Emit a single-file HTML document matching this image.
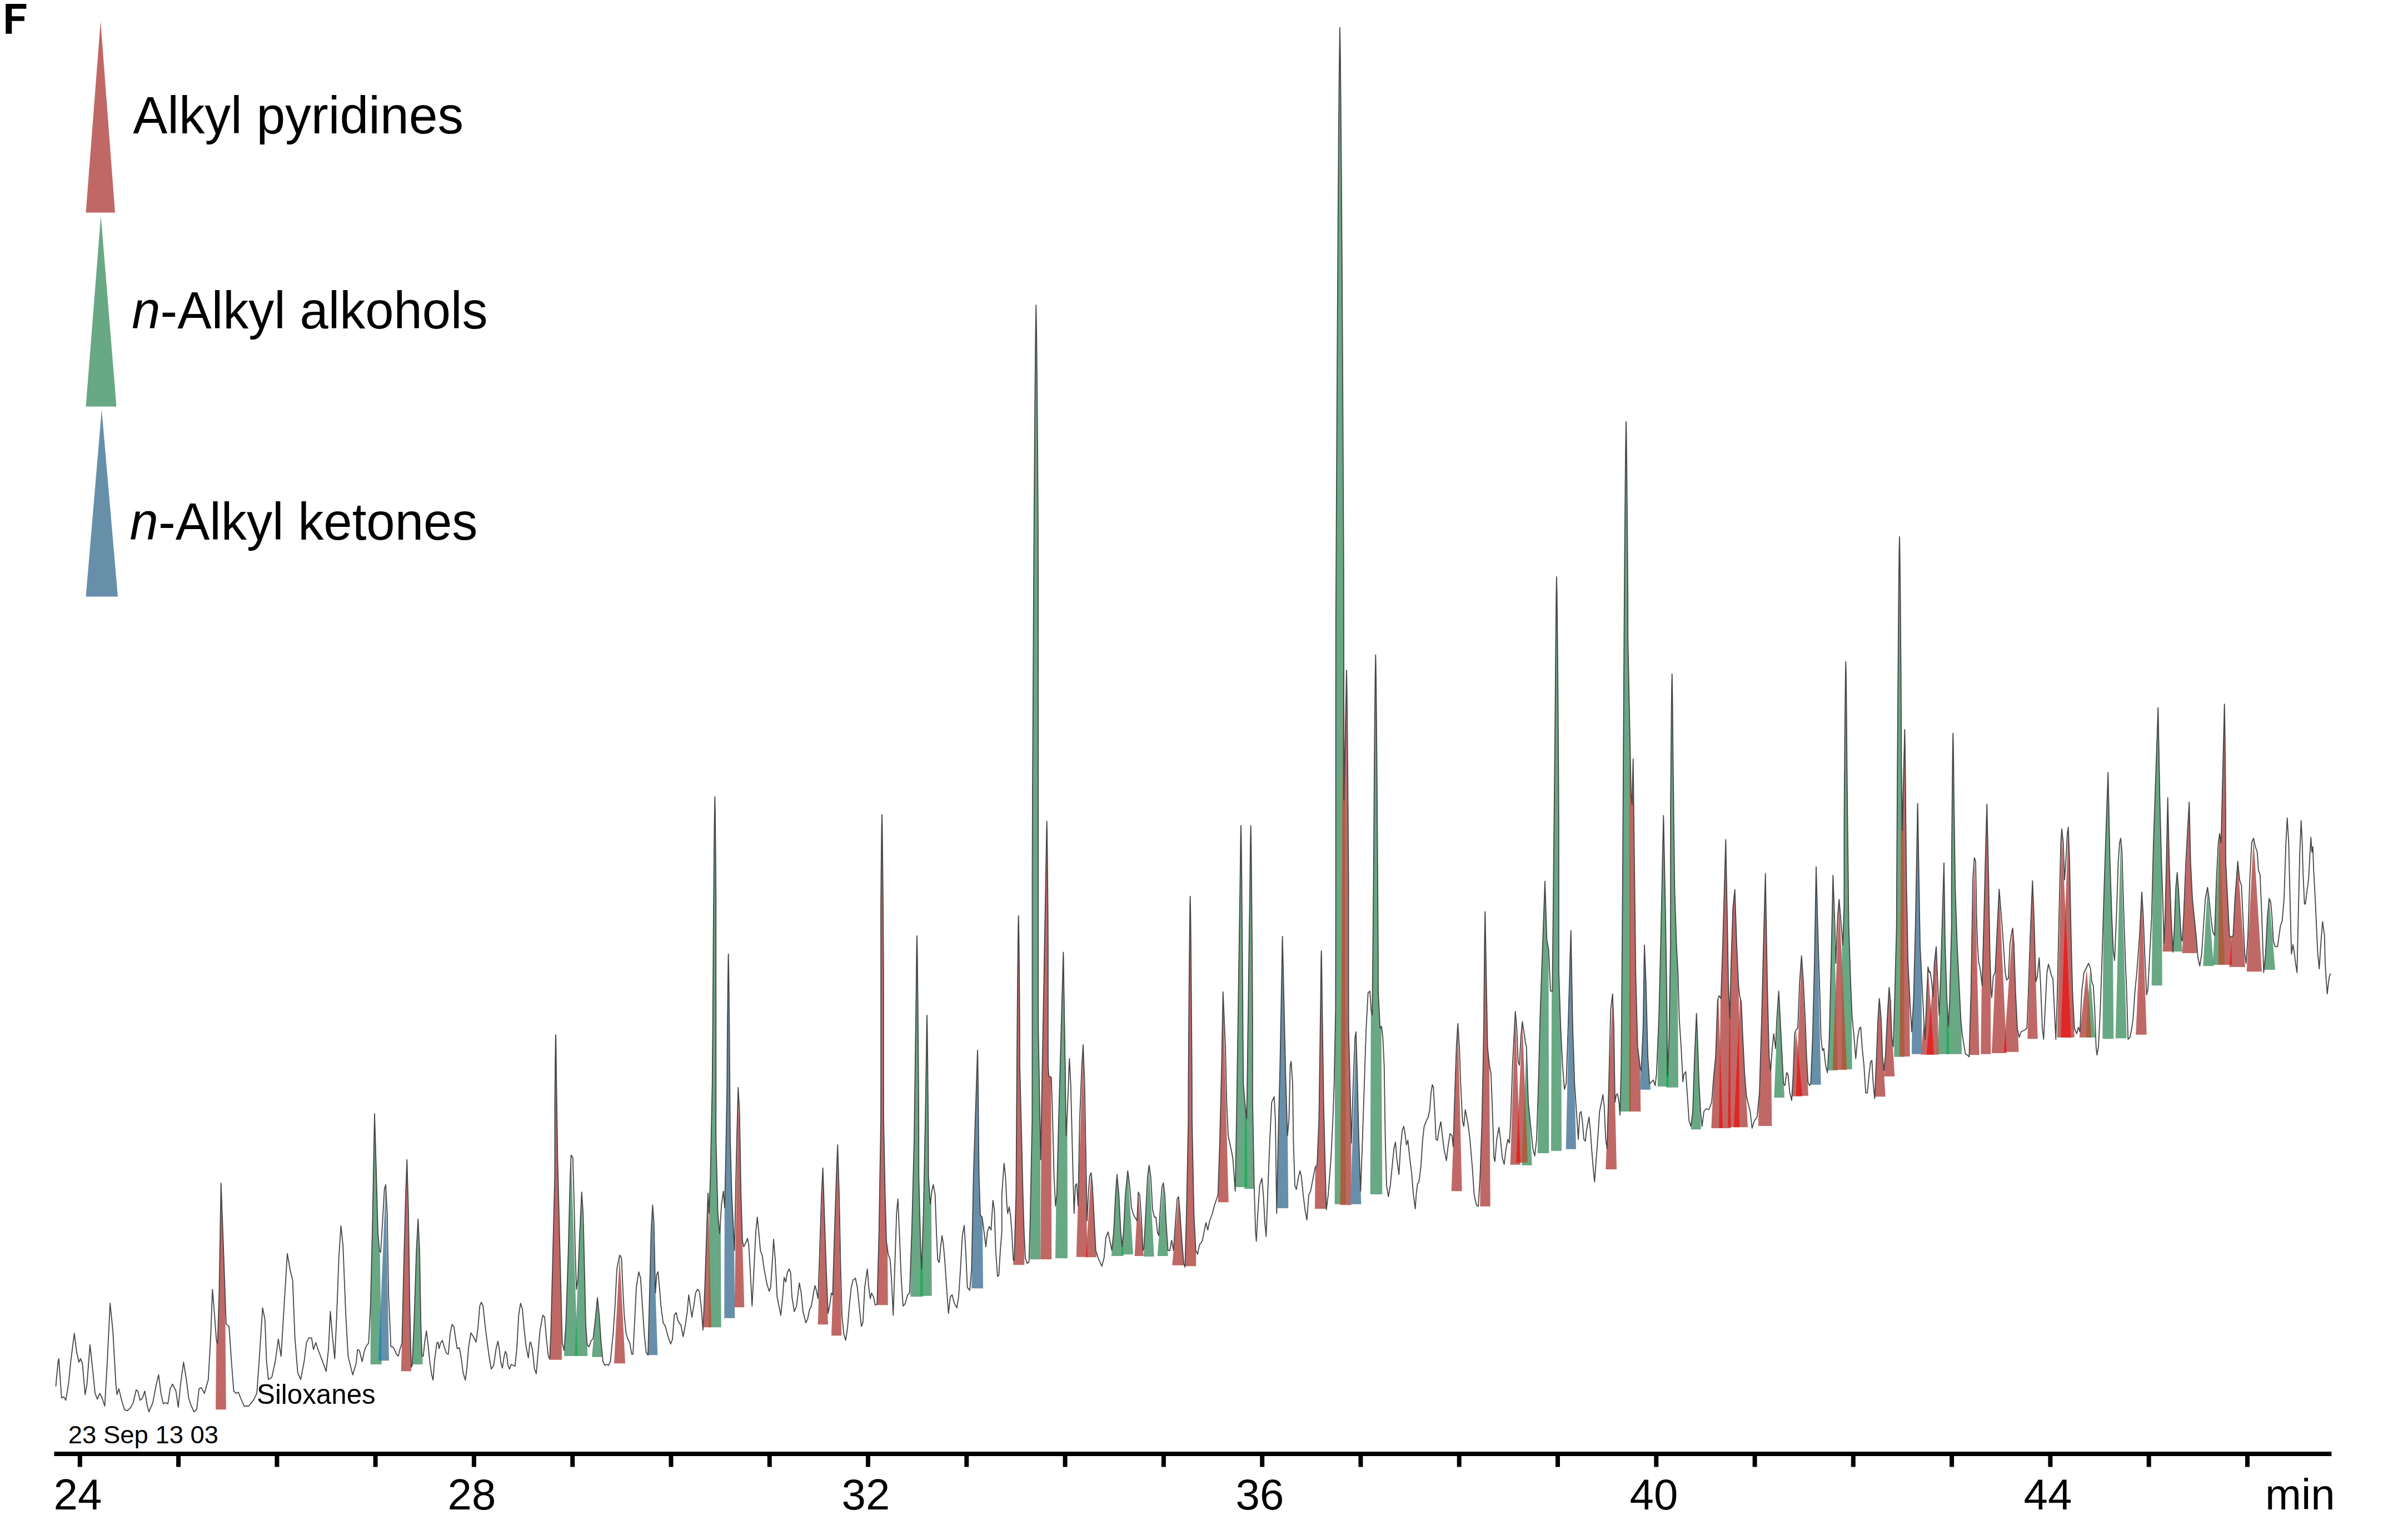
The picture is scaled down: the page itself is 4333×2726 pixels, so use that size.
<!DOCTYPE html>
<html><head><meta charset="utf-8">
<style>
html,body{margin:0;padding:0;background:#fff;}
body{width:4333px;height:2726px;overflow:hidden;position:relative;}
svg{position:absolute;left:0;top:0;}
text{font-family:"Liberation Sans",sans-serif;fill:#000;}
</style></head>
<body>
<svg width="4333" height="2726" viewBox="0 0 4333 2726">
<!-- F -->
<path d="M10.3 7H47.3V15.8H21.3V29.3H43.9V37.8H21.3V60.7H10.3Z" fill="#000"/>
<!-- legend triangles -->
<polygon fill="#c06866" points="181,38 207,382.5 154.5,382.5"/>
<polygon fill="#68a884" points="181.5,388 209.5,731.5 154.5,731.5"/>
<polygon fill="#678faa" points="183,737 212,1073.5 154.5,1073.5"/>
<!-- legend labels -->
<text id="t1" x="0" y="240.4" font-size="95" transform="translate(239.2 0) scale(0.9798 1)">Alkyl pyridines</text>
<text id="t2" x="0" y="590.9" font-size="95" transform="translate(237.3 0) scale(0.9703 1)"><tspan font-style="italic">n</tspan>-Alkyl alkohols</text>
<text id="t3" x="0" y="971.2" font-size="95" transform="translate(233.6 0) scale(0.9716 1)"><tspan font-style="italic">n</tspan>-Alkyl ketones</text>
<clipPath id="uc"><path d="M100.4 2494.7 L104.6 2449.0 L105.8 2444.8 L110.8 2515.5 L114.9 2513.4 L118.3 2519.6 L123.3 2490.5 L127.4 2449.0 L133.7 2399.1 L137.8 2432.3 L142.0 2451.0 L144.9 2444.8 L148.2 2453.1 L153.2 2509.3 L156.5 2490.5 L161.9 2419.9 L166.9 2465.6 L171.1 2507.2 L175.2 2517.6 L179.4 2507.2 L183.6 2515.5 L188.5 2530.0 L193.1 2449.0 L198.1 2345.0 L203.1 2394.9 L208.5 2490.5 L210.6 2509.3 L213.9 2498.9 L218.9 2519.6 L223.9 2536.3 L229.3 2538.4 L235.5 2532.1 L239.7 2523.8 L245.1 2500.9 L248.0 2503.0 L252.2 2519.6 L256.3 2515.5 L260.5 2503.0 L264.6 2528.0 L268.0 2540.4 L275.0 2523.8 L281.3 2490.5 L285.4 2473.9 L289.6 2507.2 L293.7 2525.9 L297.9 2523.8 L302.1 2525.9 L306.2 2498.9 L310.4 2490.5 L316.6 2503.0 L320.8 2532.1 L324.9 2490.5 L330.3 2451.0 L335.3 2482.2 L339.5 2515.5 L343.6 2528.0 L349.0 2540.4 L354.0 2536.3 L358.2 2498.9 L362.3 2496.8 L367.8 2507.2 L374.8 2482.2 L379.0 2407.4 L382.3 2320.1 L386.0 2365.8 L389.4 2411.5 L391.5 2417.8 L394.4 2324.2 L397.7 2128.8 L401.9 2241.1 L404.8 2324.2 L406.8 2382.4 L412.2 2386.6 L416.4 2449.0 L420.6 2503.0 L424.7 2507.2 L428.9 2505.1 L433.0 2515.5 L439.3 2530.0 L447.6 2530.0 L455.9 2519.6 L462.1 2507.2 L466.3 2449.0 L472.5 2353.3 L476.7 2374.1 L479.6 2449.0 L482.9 2482.2 L489.2 2478.1 L495.4 2449.0 L500.8 2409.5 L505.8 2440.6 L510.0 2370.0 L517.0 2255.6 L522.4 2286.8 L526.6 2303.4 L530.7 2407.4 L535.7 2469.8 L541.1 2482.2 L547.4 2449.0 L551.5 2415.7 L555.7 2407.4 L560.7 2407.4 L564.0 2428.2 L568.2 2415.7 L572.3 2428.2 L578.6 2444.8 L586.9 2467.7 L591.0 2428.2 L594.4 2359.6 L598.1 2403.2 L602.3 2444.8 L605.6 2374.1 L609.8 2261.9 L613.5 2205.7 L617.2 2241.1 L622.2 2365.8 L626.4 2440.6 L634.7 2473.9 L640.9 2453.1 L643.3 2428.3 L646.7 2430.0 L651.7 2450.0 L655.0 2433.3 L658.3 2423.3 L663.3 2416.7 L666.7 2350.0 L670.0 2216.7 L674.0 2004.0 L677.3 2116.7 L680.0 2216.7 L682.7 2250.0 L685.0 2253.3 L688.3 2200.0 L691.7 2140.0 L694.0 2131.7 L696.7 2183.3 L699.3 2333.3 L701.7 2383.3 L703.3 2423.3 L706.7 2423.3 L710.0 2428.3 L713.3 2436.7 L716.7 2440.0 L720.0 2426.7 L723.3 2416.7 L727.3 2250.0 L730.0 2150.0 L732.3 2086.7 L735.0 2183.3 L737.3 2350.0 L740.0 2460.0 L741.7 2456.7 L745.0 2383.3 L749.3 2250.0 L752.3 2193.3 L755.0 2250.0 L757.3 2383.3 L759.3 2440.0 L761.7 2440.0 L764.0 2416.7 L767.3 2395.0 L770.0 2416.7 L773.3 2450.0 L776.7 2473.3 L779.3 2483.3 L781.7 2450.0 L786.0 2416.7 L788.3 2415.0 L790.0 2426.7 L792.7 2416.7 L796.0 2411.7 L799.3 2423.3 L803.3 2435.0 L806.7 2436.7 L810.0 2400.0 L813.3 2383.3 L816.7 2386.7 L820.0 2410.0 L822.7 2426.7 L826.7 2425.0 L830.0 2443.3 L833.3 2470.0 L837.3 2483.3 L840.0 2463.3 L843.3 2423.3 L847.3 2398.3 L851.7 2405.0 L856.7 2415.0 L860.0 2390.0 L863.3 2350.0 L866.0 2343.3 L869.3 2350.0 L872.7 2383.3 L876.0 2410.0 L880.0 2440.0 L884.0 2463.3 L888.3 2456.7 L892.7 2426.7 L896.0 2413.3 L898.3 2426.7 L901.0 2450.0 L904.0 2461.7 L906.7 2443.3 L909.3 2431.7 L911.7 2436.7 L914.0 2456.7 L916.7 2463.3 L920.0 2455.0 L923.3 2456.7 L926.7 2458.3 L930.0 2426.7 L933.3 2366.7 L936.7 2345.0 L940.0 2355.0 L943.3 2393.3 L946.7 2423.3 L950.7 2443.3 L953.3 2416.7 L955.0 2415.0 L958.3 2430.0 L961.7 2463.3 L965.0 2471.7 L968.3 2433.3 L971.7 2393.3 L976.7 2366.7 L980.0 2370.0 L983.3 2410.0 L986.7 2440.0 L989.3 2445.0 L991.7 2383.3 L995.0 2250.0 L998.3 2116.7 L998.4 2091.2 L998.4 2065.7 L998.4 2040.3 L998.4 2014.8 L998.4 1989.3 L998.6 1963.9 L998.9 1938.4 L999.1 1912.9 L999.5 1887.5 L999.7 1872.2 L1000.0 1862.0 L1000.3 1870.9 L1000.5 1884.1 L1000.8 1906.3 L1001.0 1928.4 L1001.3 1950.5 L1001.7 1972.7 L1002.0 1994.8 L1002.3 2016.9 L1002.7 2039.1 L1003.0 2061.2 L1003.3 2083.3 L1006.7 2216.7 L1010.0 2350.0 L1011.7 2416.7 L1015.0 2430.0 L1018.3 2383.3 L1022.7 2250.0 L1026.0 2116.7 L1027.7 2078.3 L1030.7 2083.3 L1032.7 2150.0 L1035.0 2250.0 L1037.3 2320.0 L1040.0 2300.0 L1043.3 2216.7 L1046.7 2145.0 L1049.3 2183.3 L1051.7 2283.3 L1054.0 2383.3 L1056.7 2420.0 L1060.0 2423.3 L1063.3 2413.3 L1067.3 2408.3 L1071.7 2370.0 L1075.0 2335.0 L1078.3 2366.7 L1081.7 2416.7 L1085.0 2450.0 L1088.3 2456.7 L1091.7 2455.0 L1095.0 2456.7 L1098.3 2450.0 L1103.3 2400.0 L1106.7 2350.0 L1110.0 2283.3 L1115.0 2258.3 L1118.3 2263.3 L1120.7 2316.7 L1123.3 2366.7 L1126.7 2400.0 L1130.0 2410.0 L1133.3 2416.7 L1136.7 2436.7 L1139.0 2436.7 L1141.7 2383.3 L1145.0 2316.7 L1149.3 2288.3 L1152.7 2300.0 L1156.0 2350.0 L1159.3 2400.0 L1162.7 2433.3 L1166.0 2438.3 L1168.3 2350.0 L1171.7 2216.7 L1174.3 2168.3 L1176.7 2200.0 L1179.3 2326.7 L1181.7 2293.3 L1184.0 2288.3 L1186.7 2316.7 L1189.3 2350.0 L1193.3 2380.0 L1197.3 2386.7 L1201.7 2403.3 L1206.7 2418.3 L1210.0 2410.0 L1213.3 2366.7 L1216.7 2361.7 L1220.0 2376.7 L1224.0 2383.3 L1225.0 2383.3 L1229.3 2405.0 L1233.3 2383.3 L1236.7 2360.0 L1239.3 2330.0 L1241.7 2346.7 L1245.0 2370.0 L1248.3 2350.0 L1251.7 2326.7 L1255.0 2320.0 L1258.3 2323.3 L1261.7 2350.0 L1265.0 2393.3 L1268.3 2316.7 L1272.7 2183.3 L1274.0 2146.7 L1276.0 2183.3 L1278.3 2116.7 L1281.7 1950.0 L1282.1 1898.4 L1282.6 1846.7 L1282.9 1795.1 L1283.3 1743.5 L1283.6 1691.8 L1284.0 1640.2 L1284.5 1588.6 L1284.9 1536.9 L1285.5 1485.3 L1285.9 1454.3 L1286.3 1433.7 L1286.9 1458.3 L1287.3 1495.3 L1287.9 1556.9 L1288.3 1618.6 L1288.3 1680.2 L1288.3 1741.8 L1288.3 1803.5 L1288.3 1865.1 L1288.3 1926.7 L1288.3 1988.4 L1288.3 2050.0 L1291.7 2183.3 L1295.0 2220.0 L1298.3 2166.7 L1301.7 2143.3 L1304.0 2173.3 L1306.0 2083.3 L1308.3 1950.0 L1308.4 1926.7 L1308.5 1903.3 L1308.7 1880.0 L1308.9 1856.7 L1309.1 1833.3 L1309.4 1810.0 L1309.6 1786.7 L1309.9 1763.3 L1310.2 1740.0 L1310.4 1726.0 L1310.7 1716.7 L1311.0 1730.0 L1311.3 1750.0 L1311.7 1783.3 L1312.0 1816.7 L1312.4 1850.0 L1312.6 1883.3 L1312.9 1916.7 L1313.2 1950.0 L1313.4 1983.3 L1313.7 2016.7 L1314.0 2050.0 L1316.7 2150.0 L1320.0 2216.7 L1321.7 2250.0 L1325.0 2083.3 L1328.3 1956.7 L1330.7 2000.0 L1333.3 2150.0 L1336.0 2233.3 L1338.3 2243.3 L1341.7 2236.7 L1345.0 2228.3 L1347.3 2240.0 L1350.7 2300.0 L1353.3 2350.0 L1356.7 2283.3 L1360.0 2216.7 L1362.7 2190.0 L1365.3 2216.7 L1368.3 2250.0 L1371.7 2260.0 L1375.0 2283.3 L1380.0 2310.0 L1384.0 2323.3 L1386.7 2316.7 L1390.0 2266.7 L1392.0 2230.0 L1395.0 2266.7 L1398.3 2333.3 L1405.0 2366.7 L1408.3 2333.3 L1411.0 2298.3 L1414.0 2306.7 L1416.7 2290.0 L1420.0 2283.3 L1422.7 2290.0 L1425.0 2333.3 L1429.3 2360.0 L1433.3 2350.0 L1438.3 2308.3 L1441.7 2326.7 L1445.0 2360.0 L1450.0 2380.0 L1453.3 2373.3 L1456.7 2356.7 L1460.0 2350.0 L1465.0 2320.0 L1466.7 2313.3 L1469.3 2323.3 L1472.0 2336.7 L1475.0 2250.0 L1478.3 2150.0 L1480.7 2101.7 L1483.3 2183.3 L1486.7 2283.3 L1490.0 2363.3 L1492.7 2350.0 L1496.0 2326.7 L1498.3 2330.0 L1501.7 2216.7 L1505.0 2116.7 L1507.3 2060.0 L1510.0 2150.0 L1512.7 2283.3 L1515.0 2366.7 L1518.3 2400.0 L1521.7 2411.7 L1525.0 2390.0 L1528.3 2350.0 L1531.7 2316.7 L1535.0 2303.3 L1539.3 2300.0 L1542.7 2316.7 L1546.0 2350.0 L1550.0 2386.7 L1552.7 2380.0 L1556.0 2316.7 L1558.3 2300.0 L1560.7 2283.3 L1563.3 2316.7 L1566.0 2336.7 L1568.3 2326.7 L1571.7 2333.3 L1575.0 2348.3 L1578.3 2346.7 L1581.7 2216.7 L1585.0 2016.7 L1585.1 1961.6 L1585.1 1906.5 L1585.1 1851.5 L1585.1 1796.4 L1585.1 1741.3 L1585.1 1686.3 L1585.1 1631.2 L1585.5 1576.1 L1586.1 1521.1 L1586.5 1488.0 L1587.0 1466.0 L1587.5 1488.0 L1587.9 1521.1 L1588.5 1576.1 L1589.0 1631.2 L1589.4 1686.3 L1589.8 1741.3 L1589.9 1796.4 L1589.9 1851.5 L1589.9 1906.5 L1589.9 1961.6 L1590.0 2016.7 L1592.7 2150.0 L1595.0 2233.3 L1598.3 2256.7 L1601.7 2266.7 L1604.0 2300.0 L1607.3 2366.7 L1610.0 2283.3 L1613.3 2183.3 L1615.7 2157.3 L1618.3 2216.7 L1621.7 2300.0 L1625.0 2350.0 L1628.3 2346.7 L1633.3 2330.0 L1636.7 2326.7 L1640.7 2216.7 L1645.0 2050.0 L1645.5 2013.4 L1646.0 1976.8 L1646.5 1940.2 L1647.0 1903.6 L1647.5 1867.0 L1648.0 1830.4 L1648.5 1793.8 L1648.9 1757.2 L1649.3 1720.6 L1649.6 1698.6 L1650.0 1684.0 L1650.4 1701.3 L1650.8 1727.3 L1651.2 1770.5 L1651.7 1813.8 L1652.0 1857.1 L1652.4 1900.3 L1652.7 1943.6 L1653.0 1986.9 L1653.2 2030.1 L1653.2 2073.4 L1653.3 2116.7 L1656.7 2250.0 L1658.3 2283.3 L1661.7 2183.3 L1665.0 2016.7 L1665.3 1997.7 L1665.6 1978.7 L1665.9 1959.7 L1666.2 1940.7 L1666.5 1921.7 L1666.8 1902.7 L1667.1 1883.7 L1667.3 1864.7 L1667.6 1845.7 L1667.8 1834.3 L1668.0 1826.7 L1668.3 1838.3 L1668.6 1855.7 L1668.9 1884.7 L1669.3 1913.7 L1669.5 1942.7 L1669.8 1971.7 L1670.0 2000.7 L1670.3 2029.7 L1670.5 2058.7 L1670.6 2087.7 L1670.7 2116.7 L1674.0 2166.7 L1676.7 2143.3 L1679.3 2131.7 L1682.7 2150.0 L1685.0 2216.7 L1687.3 2266.7 L1690.0 2271.7 L1692.7 2243.3 L1695.0 2223.3 L1697.3 2236.7 L1700.0 2266.7 L1703.3 2316.7 L1706.7 2363.3 L1710.0 2333.3 L1713.3 2330.0 L1716.7 2343.3 L1721.7 2353.3 L1725.0 2333.3 L1728.3 2283.3 L1731.7 2223.3 L1735.0 2205.0 L1737.7 2250.0 L1740.7 2316.7 L1745.0 2321.7 L1748.3 2283.3 L1751.7 2116.7 L1752.4 2094.0 L1753.1 2071.3 L1753.9 2048.7 L1754.6 2026.0 L1755.3 2003.3 L1756.1 1980.7 L1756.8 1958.0 L1757.5 1935.3 L1758.3 1912.7 L1758.7 1899.1 L1759.0 1890.0 L1759.3 1899.1 L1759.5 1912.7 L1759.8 1935.3 L1760.1 1958.0 L1760.3 1980.7 L1760.5 2003.3 L1760.7 2026.0 L1760.9 2048.7 L1761.1 2071.3 L1761.4 2094.0 L1761.7 2116.7 L1764.0 2186.7 L1767.3 2190.0 L1770.7 2216.7 L1774.0 2243.3 L1776.7 2216.7 L1780.0 2206.7 L1783.3 2213.3 L1786.7 2160.0 L1789.3 2176.7 L1791.7 2250.0 L1795.0 2296.7 L1797.3 2295.0 L1800.0 2250.0 L1802.7 2216.7 L1802.7 2150.0 L1806.7 2093.3 L1809.3 2116.7 L1811.7 2166.7 L1813.3 2183.3 L1816.0 2171.7 L1818.3 2186.7 L1820.7 2216.7 L1823.3 2266.7 L1825.0 2268.3 L1828.3 2150.0 L1828.7 2099.8 L1829.0 2049.5 L1829.3 1999.3 L1829.7 1949.1 L1830.0 1898.8 L1830.4 1848.6 L1830.8 1798.4 L1831.3 1748.1 L1831.8 1697.9 L1832.2 1667.8 L1832.7 1647.7 L1833.0 1658.4 L1833.2 1674.6 L1833.6 1701.5 L1833.9 1728.4 L1834.1 1755.3 L1834.4 1782.2 L1834.6 1809.1 L1834.8 1836.0 L1834.9 1862.9 L1834.9 1889.8 L1835.0 1916.7 L1838.3 2050.0 L1840.7 2150.0 L1842.7 2216.7 L1845.0 2263.3 L1848.3 2273.3 L1851.7 2270.0 L1854.0 2183.3 L1857.3 2016.7 L1857.5 1869.9 L1857.5 1723.1 L1857.5 1576.4 L1858.0 1429.6 L1858.8 1282.8 L1859.6 1136.1 L1860.4 989.3 L1861.4 842.5 L1862.5 695.8 L1863.4 607.7 L1864.3 549.0 L1865.2 601.0 L1866.0 679.1 L1867.0 809.2 L1867.9 939.3 L1868.2 1069.4 L1868.2 1199.5 L1868.2 1329.6 L1868.2 1459.7 L1868.2 1589.8 L1868.2 1719.9 L1868.3 1850.0 L1870.7 1983.3 L1872.7 2086.7 L1875.0 1950.0 L1875.9 1902.8 L1876.7 1855.6 L1877.6 1808.4 L1878.5 1761.2 L1879.3 1714.0 L1880.2 1666.8 L1881.1 1619.6 L1881.9 1572.4 L1882.8 1525.2 L1883.2 1496.9 L1883.7 1478.0 L1884.1 1495.5 L1884.4 1521.9 L1884.9 1565.7 L1885.3 1609.6 L1885.7 1653.5 L1885.9 1697.3 L1885.9 1741.2 L1885.9 1785.1 L1885.9 1828.9 L1885.9 1872.8 L1886.0 1916.7 L1887.3 1936.7 L1891.7 1938.3 L1893.3 1983.3 L1896.7 2116.7 L1899.3 2170.0 L1901.7 2150.0 L1905.0 2016.7 L1905.8 1986.3 L1906.7 1956.0 L1907.5 1925.7 L1908.3 1895.3 L1909.2 1865.0 L1910.0 1834.7 L1910.8 1804.3 L1911.7 1774.0 L1912.5 1743.7 L1913.0 1725.5 L1913.3 1713.3 L1913.6 1721.5 L1913.8 1733.7 L1914.1 1754.0 L1914.3 1774.3 L1914.7 1794.7 L1915.0 1815.0 L1915.3 1835.3 L1915.7 1855.7 L1916.0 1876.0 L1916.3 1896.3 L1916.7 1916.7 L1918.3 2043.3 L1920.7 2000.0 L1924.3 1905.0 L1926.7 1950.0 L1930.0 2083.3 L1932.7 2183.3 L1935.0 2133.3 L1937.3 2130.0 L1940.0 2170.0 L1942.7 2016.7 L1946.7 1916.7 L1949.0 1880.0 L1951.7 1950.0 L1954.0 2083.3 L1956.0 2196.7 L1958.3 2150.0 L1960.7 2116.7 L1963.3 2110.0 L1965.7 2133.3 L1968.3 2183.3 L1971.7 2250.0 L1976.0 2263.3 L1982.7 2278.3 L1986.7 2263.3 L1990.0 2226.7 L1994.0 2216.7 L1997.3 2233.3 L2000.7 2250.0 L2004.0 2216.7 L2007.3 2150.0 L2010.0 2113.3 L2013.3 2150.0 L2016.7 2216.7 L2019.3 2243.3 L2021.7 2216.7 L2025.0 2150.0 L2029.3 2106.7 L2032.7 2133.3 L2036.0 2173.3 L2040.0 2186.7 L2046.0 2196.7 L2048.3 2145.0 L2050.7 2150.0 L2053.3 2183.3 L2056.7 2250.0 L2058.3 2246.7 L2061.7 2183.3 L2065.0 2116.7 L2067.7 2096.7 L2070.7 2116.7 L2074.0 2176.7 L2077.3 2190.0 L2080.0 2190.0 L2082.7 2216.7 L2085.0 2223.3 L2087.3 2183.3 L2090.7 2136.7 L2093.3 2128.3 L2096.0 2150.0 L2098.3 2200.0 L2101.7 2250.0 L2105.0 2250.0 L2108.3 2231.7 L2111.7 2250.0 L2115.0 2200.0 L2118.3 2156.7 L2120.7 2153.3 L2123.3 2183.3 L2126.7 2233.3 L2130.0 2273.3 L2132.3 2280.0 L2135.0 2183.3 L2138.3 2016.7 L2138.4 1976.3 L2138.5 1935.9 L2138.8 1895.5 L2139.1 1855.1 L2139.4 1814.7 L2139.7 1774.3 L2140.1 1733.9 L2140.5 1693.5 L2140.9 1653.1 L2141.3 1628.8 L2141.7 1612.7 L2142.1 1628.8 L2142.4 1653.1 L2142.9 1693.5 L2143.2 1733.9 L2143.6 1774.3 L2143.9 1814.7 L2144.2 1855.1 L2144.5 1895.5 L2144.8 1935.9 L2144.9 1976.3 L2145.0 2016.7 L2148.3 2183.3 L2151.7 2250.0 L2155.0 2256.7 L2158.3 2240.0 L2163.3 2233.3 L2166.7 2216.7 L2170.0 2200.0 L2173.3 2213.3 L2176.7 2196.7 L2181.7 2183.3 L2185.0 2170.0 L2188.3 2160.0 L2191.7 2150.0 L2195.0 2050.0 L2198.3 1916.7 L2200.7 1784.7 L2205.0 1883.3 L2207.3 1983.3 L2210.0 2043.3 L2215.0 2066.7 L2218.3 2083.3 L2220.7 2116.7 L2222.7 2143.3 L2225.0 2016.7 L2225.8 1963.5 L2226.6 1910.4 L2227.4 1857.3 L2228.2 1804.1 L2229.0 1751.0 L2229.8 1697.9 L2230.6 1644.7 L2231.4 1591.6 L2232.1 1538.5 L2232.5 1506.6 L2233.0 1485.3 L2233.4 1503.9 L2233.8 1531.8 L2234.3 1578.3 L2234.7 1624.7 L2235.1 1671.2 L2235.5 1717.7 L2235.8 1764.1 L2236.2 1810.6 L2236.5 1857.1 L2236.9 1903.5 L2237.3 1950.0 L2240.0 1983.3 L2243.3 2013.3 L2244.1 1960.5 L2244.8 1907.7 L2245.5 1854.9 L2246.3 1802.1 L2247.0 1749.3 L2247.7 1696.5 L2248.5 1643.7 L2249.2 1590.9 L2249.8 1538.1 L2250.2 1506.5 L2250.7 1485.3 L2251.1 1505.3 L2251.5 1535.1 L2252.0 1584.9 L2252.5 1634.7 L2252.9 1684.5 L2253.3 1734.3 L2253.6 1784.1 L2253.9 1833.9 L2253.9 1883.7 L2253.9 1933.5 L2254.0 1983.3 L2256.7 2133.3 L2259.3 2216.7 L2260.7 2233.3 L2263.3 2183.3 L2266.7 2133.3 L2270.7 2120.0 L2273.3 2150.0 L2276.0 2200.0 L2278.3 2225.0 L2281.7 2133.3 L2285.0 2050.0 L2288.3 1983.3 L2292.7 1973.3 L2295.0 2016.7 L2297.3 2183.3 L2300.0 2050.0 L2303.3 1916.7 L2303.8 1893.5 L2304.2 1870.3 L2304.6 1847.2 L2305.1 1824.0 L2305.5 1800.8 L2305.9 1777.7 L2306.4 1754.5 L2306.8 1731.3 L2307.2 1708.2 L2307.4 1694.3 L2307.7 1685.0 L2307.9 1694.9 L2308.2 1709.8 L2308.8 1734.7 L2309.4 1759.5 L2309.9 1784.3 L2310.5 1809.2 L2311.1 1834.0 L2311.6 1858.8 L2312.2 1883.7 L2312.8 1908.5 L2313.3 1933.3 L2316.7 2043.3 L2319.3 2016.7 L2321.7 1916.7 L2323.3 1910.0 L2326.0 1950.0 L2327.3 2050.0 L2330.0 2133.3 L2332.7 2140.0 L2336.7 2116.7 L2339.3 2106.7 L2341.7 2116.7 L2345.0 2150.0 L2348.3 2176.7 L2351.7 2195.0 L2355.0 2150.0 L2358.3 2143.3 L2363.3 2116.7 L2366.7 2100.0 L2370.0 2096.7 L2373.3 2016.7 L2373.8 1986.1 L2374.2 1955.5 L2374.6 1925.0 L2375.1 1894.4 L2375.5 1863.8 L2375.9 1833.3 L2376.4 1802.7 L2376.7 1772.1 L2377.1 1741.6 L2377.3 1723.2 L2377.7 1711.0 L2378.0 1721.9 L2378.2 1738.2 L2378.6 1765.5 L2378.9 1792.7 L2379.3 1819.9 L2379.7 1847.2 L2380.1 1874.4 L2380.5 1901.6 L2380.9 1928.9 L2381.3 1956.1 L2381.7 1983.3 L2385.0 2116.7 L2386.7 2176.7 L2390.0 2150.0 L2395.0 2083.3 L2398.3 2016.7 L2400.7 1950.0 L2403.3 1816.7 L2403.6 1640.0 L2403.6 1463.3 L2403.6 1286.7 L2403.8 1110.0 L2404.7 933.3 L2405.6 756.7 L2406.6 580.0 L2407.7 403.3 L2408.9 226.7 L2409.9 120.7 L2411.0 50.0 L2411.9 105.6 L2412.7 189.0 L2413.8 328.0 L2414.8 467.0 L2415.6 606.0 L2416.4 745.0 L2417.1 884.0 L2417.8 1023.0 L2418.1 1162.0 L2418.1 1301.0 L2418.3 1440.0 L2418.8 1416.6 L2419.3 1393.2 L2419.7 1369.8 L2420.2 1346.4 L2420.7 1323.0 L2421.1 1299.6 L2421.6 1276.2 L2422.1 1252.8 L2422.5 1229.4 L2422.7 1215.4 L2423.0 1206.0 L2423.5 1231.8 L2424.0 1270.4 L2424.6 1334.8 L2425.2 1399.2 L2425.7 1463.6 L2426.1 1528.0 L2426.6 1592.4 L2426.6 1656.8 L2426.6 1721.2 L2426.6 1785.6 L2426.7 1850.0 L2430.0 1983.3 L2431.7 2056.7 L2435.0 1950.0 L2438.3 1866.7 L2440.0 1856.7 L2442.7 1950.0 L2445.0 2050.0 L2448.3 2143.3 L2451.7 2050.0 L2455.0 1950.0 L2458.3 1850.0 L2461.7 1786.7 L2465.0 1783.3 L2467.3 1816.7 L2469.3 1826.7 L2469.9 1761.8 L2470.5 1697.0 L2471.1 1632.2 L2471.7 1567.3 L2472.2 1502.5 L2472.6 1437.7 L2473.1 1372.8 L2473.7 1308.0 L2474.3 1243.2 L2474.8 1204.3 L2475.3 1178.3 L2475.8 1202.5 L2476.3 1238.8 L2476.9 1299.3 L2477.4 1359.8 L2477.9 1420.3 L2478.3 1480.8 L2478.7 1541.3 L2479.1 1601.8 L2479.5 1662.3 L2479.9 1722.8 L2480.0 1783.3 L2483.3 1850.0 L2486.0 1846.7 L2488.3 1866.7 L2490.7 1916.7 L2492.7 2050.0 L2495.0 2133.3 L2498.3 2153.3 L2501.7 2133.3 L2505.0 2100.0 L2508.3 2066.7 L2511.0 2055.0 L2513.3 2083.3 L2517.3 2113.3 L2520.0 2066.7 L2523.3 2033.3 L2526.0 2026.7 L2528.3 2040.0 L2530.7 2060.0 L2533.3 2051.7 L2536.7 2083.3 L2540.0 2110.0 L2543.3 2150.0 L2546.7 2175.0 L2548.3 2150.0 L2550.7 2130.0 L2553.3 2126.7 L2556.7 2100.0 L2560.0 2050.0 L2562.7 2026.7 L2566.7 2016.7 L2570.0 2010.0 L2572.7 1996.7 L2575.0 1966.7 L2577.3 1951.7 L2579.3 1956.7 L2581.7 2000.0 L2584.0 2050.0 L2586.7 2051.7 L2589.3 2033.3 L2592.7 2018.3 L2595.0 2040.0 L2598.3 2066.7 L2602.7 2088.3 L2606.0 2060.0 L2609.3 2040.0 L2612.7 2043.3 L2615.0 2063.3 L2617.3 1983.3 L2620.7 1883.3 L2623.3 1841.7 L2626.0 1883.3 L2628.3 1950.0 L2631.7 2016.7 L2634.0 2026.7 L2636.7 1996.7 L2639.3 2010.0 L2641.7 2023.3 L2645.0 2050.0 L2649.3 2100.0 L2652.7 2150.0 L2656.7 2168.3 L2660.0 2170.7 L2663.3 2116.7 L2666.7 2016.7 L2670.0 1850.0 L2670.2 1829.0 L2670.3 1808.1 L2670.5 1787.1 L2670.7 1766.1 L2670.9 1745.2 L2671.1 1724.2 L2671.3 1703.2 L2671.6 1682.3 L2671.9 1661.3 L2672.1 1648.7 L2672.3 1640.3 L2672.6 1650.1 L2672.8 1664.6 L2673.2 1688.9 L2673.6 1713.2 L2674.1 1737.5 L2674.5 1761.8 L2674.9 1786.1 L2675.4 1810.4 L2675.8 1834.7 L2676.2 1859.0 L2676.7 1883.3 L2680.0 1916.7 L2682.7 1930.0 L2685.0 1983.3 L2688.3 2083.3 L2690.0 2090.0 L2693.3 2050.0 L2697.3 2028.3 L2700.0 2050.0 L2703.3 2083.3 L2706.7 2095.0 L2710.0 2066.7 L2713.3 2050.0 L2716.0 2056.7 L2718.3 2016.7 L2721.7 1916.7 L2726.7 1820.0 L2729.3 1850.0 L2731.7 1910.0 L2734.0 1916.7 L2736.7 1866.7 L2739.3 1838.3 L2742.7 1860.0 L2745.0 1876.7 L2746.7 1883.3 L2750.0 1983.3 L2755.0 2033.3 L2758.3 2066.7 L2761.7 2080.0 L2765.0 2050.0 L2768.3 1950.0 L2771.7 1816.7 L2780.0 1585.7 L2783.3 1690.0 L2786.7 1710.0 L2790.0 1783.3 L2793.3 1783.3 L2794.1 1708.8 L2794.9 1634.3 L2795.6 1559.7 L2796.4 1485.2 L2797.2 1410.7 L2797.9 1336.1 L2798.6 1261.6 L2799.2 1187.1 L2799.9 1112.5 L2800.4 1067.8 L2801.0 1038.0 L2801.6 1066.5 L2802.1 1109.2 L2802.8 1180.4 L2803.4 1251.6 L2803.9 1322.8 L2804.4 1394.0 L2804.8 1465.2 L2804.9 1536.4 L2804.9 1607.6 L2804.9 1678.8 L2805.0 1750.0 L2808.3 1850.0 L2811.7 1916.7 L2815.0 1960.0 L2818.3 1950.0 L2821.7 1850.0 L2822.2 1832.4 L2822.7 1814.9 L2823.2 1797.3 L2823.7 1779.7 L2824.2 1762.2 L2824.7 1744.6 L2825.2 1727.0 L2825.7 1709.5 L2826.2 1691.9 L2826.5 1681.4 L2826.7 1674.3 L2826.9 1681.4 L2827.1 1691.9 L2827.3 1709.5 L2827.7 1727.0 L2828.0 1744.6 L2828.3 1762.2 L2828.7 1779.7 L2829.0 1797.3 L2829.3 1814.9 L2829.7 1832.4 L2830.0 1850.0 L2833.3 1950.0 L2836.7 2000.0 L2840.0 2050.0 L2842.7 2003.3 L2845.0 2000.0 L2847.3 2016.7 L2850.0 2050.0 L2852.7 2053.3 L2855.0 2033.3 L2859.3 2010.0 L2861.7 2033.3 L2864.0 2066.7 L2866.7 2100.0 L2869.3 2126.7 L2871.7 2093.3 L2875.0 2050.0 L2878.3 2000.0 L2881.7 1983.3 L2884.3 1970.0 L2886.7 1990.0 L2889.3 2050.0 L2891.7 2066.7 L2895.0 1950.0 L2898.3 1816.7 L2901.7 1788.3 L2904.0 1850.0 L2906.0 1983.3 L2908.3 1970.0 L2910.7 1968.3 L2913.3 1983.3 L2915.0 2006.7 L2917.3 1916.7 L2918.2 1800.9 L2919.1 1685.1 L2919.9 1569.4 L2920.6 1453.6 L2921.3 1337.8 L2922.0 1222.1 L2922.7 1106.3 L2923.5 990.5 L2924.5 874.8 L2925.2 805.3 L2926.0 759.0 L2926.4 774.6 L2926.7 798.1 L2927.2 837.2 L2927.5 876.3 L2927.9 915.4 L2928.2 954.5 L2928.5 993.6 L2928.8 1032.7 L2929.1 1071.8 L2929.2 1110.9 L2929.3 1150.0 L2935.0 1430.0 L2936.7 1448.0 L2938.7 1365.7 L2943.3 1750.0 L2946.7 1883.3 L2951.7 1923.3 L2953.3 1926.7 L2956.7 1850.0 L2959.0 1700.3 L2961.7 1766.7 L2965.0 1900.0 L2968.3 1950.0 L2971.7 1946.7 L2975.0 1943.3 L2978.3 1953.3 L2980.7 1933.3 L2985.0 1833.3 L2988.3 1700.0 L2988.8 1676.7 L2989.3 1653.5 L2989.8 1630.2 L2990.3 1606.9 L2990.8 1583.7 L2991.3 1560.4 L2991.8 1537.1 L2992.3 1513.9 L2992.8 1490.6 L2993.1 1476.6 L2993.3 1467.3 L2993.5 1474.0 L2993.7 1483.9 L2994.0 1500.5 L2994.3 1517.1 L2994.7 1533.7 L2995.0 1550.3 L2995.3 1566.9 L2995.7 1583.5 L2996.0 1600.1 L2996.3 1616.7 L2996.7 1633.3 L2999.3 1800.0 L3000.7 1936.7 L3003.3 1866.7 L3006.0 1700.0 L3006.1 1651.3 L3006.1 1602.5 L3006.1 1553.8 L3006.1 1505.1 L3006.1 1456.3 L3006.5 1407.6 L3006.9 1358.9 L3007.3 1310.1 L3007.8 1261.4 L3008.2 1232.2 L3008.7 1212.7 L3009.0 1228.2 L3009.4 1251.4 L3009.8 1290.1 L3010.2 1328.9 L3010.5 1367.6 L3011.0 1406.3 L3011.5 1445.1 L3011.9 1483.8 L3012.4 1522.5 L3012.9 1561.3 L3013.3 1600.0 L3016.7 1700.0 L3019.3 1750.0 L3021.7 1833.3 L3025.0 1883.3 L3028.3 1946.7 L3030.0 1933.3 L3033.3 1928.3 L3036.0 1966.7 L3039.3 2016.7 L3042.7 2026.7 L3046.0 2000.0 L3049.3 1900.0 L3052.7 1823.3 L3055.0 1883.3 L3057.3 1950.0 L3060.0 2000.0 L3062.7 2026.7 L3066.0 2000.0 L3070.0 1995.0 L3075.0 1996.7 L3080.0 1983.3 L3084.0 1933.3 L3087.3 1900.0 L3090.7 1800.0 L3093.3 1791.7 L3096.7 1796.7 L3100.0 1700.0 L3100.5 1681.1 L3101.1 1662.1 L3101.6 1643.2 L3102.1 1624.3 L3102.7 1605.3 L3103.2 1586.4 L3103.7 1567.5 L3104.3 1548.5 L3104.8 1529.6 L3105.1 1518.2 L3105.3 1510.7 L3105.5 1516.9 L3105.7 1526.3 L3105.9 1541.9 L3106.2 1557.5 L3106.5 1573.1 L3106.8 1588.7 L3107.1 1604.3 L3107.4 1619.9 L3107.7 1635.5 L3108.0 1651.1 L3108.3 1666.7 L3110.0 1766.7 L3112.7 1833.3 L3115.0 1733.3 L3118.3 1633.3 L3121.7 1600.7 L3125.0 1700.0 L3128.3 1773.3 L3130.7 1793.3 L3133.3 1803.3 L3136.0 1866.7 L3139.3 1933.3 L3142.7 1973.3 L3146.0 1986.7 L3149.3 2000.0 L3152.7 2030.0 L3156.7 2016.7 L3161.7 2010.0 L3166.0 1966.7 L3170.0 1833.3 L3173.3 1700.0 L3176.7 1571.7 L3180.0 1766.7 L3183.3 1900.0 L3186.0 1926.7 L3189.3 1883.3 L3191.7 1860.0 L3195.0 1886.7 L3197.3 1833.3 L3200.7 1783.3 L3203.3 1833.3 L3206.7 1900.0 L3209.3 1950.0 L3211.7 1953.3 L3215.0 1930.0 L3217.3 1933.3 L3220.7 1966.7 L3224.0 1980.0 L3226.7 1933.3 L3229.3 1860.0 L3231.7 1853.3 L3235.0 1850.0 L3238.3 1766.7 L3241.7 1720.0 L3245.0 1766.7 L3248.3 1833.3 L3250.7 1900.0 L3253.3 1946.7 L3256.0 1953.3 L3258.3 1950.0 L3261.7 1866.7 L3265.0 1733.3 L3268.0 1559.7 L3271.7 1700.0 L3275.0 1800.0 L3276.7 1866.7 L3279.3 1890.0 L3281.7 1886.7 L3285.0 1916.7 L3288.3 1930.0 L3291.7 1866.7 L3295.0 1733.3 L3298.3 1575.0 L3301.7 1666.7 L3303.3 1733.3 L3306.7 1650.0 L3309.3 1618.3 L3313.3 1666.7 L3316.0 1700.0 L3318.3 1633.3 L3318.4 1589.1 L3318.4 1544.8 L3318.4 1500.5 L3318.6 1456.3 L3318.9 1412.0 L3319.3 1367.7 L3319.6 1323.5 L3320.1 1279.2 L3320.6 1234.9 L3320.9 1208.4 L3321.3 1190.7 L3321.8 1209.7 L3322.2 1238.3 L3322.7 1285.9 L3323.1 1333.5 L3323.5 1381.1 L3324.0 1428.7 L3324.5 1476.3 L3325.1 1523.9 L3325.6 1571.5 L3326.1 1619.1 L3326.7 1666.7 L3330.0 1766.7 L3332.7 1830.0 L3336.0 1863.3 L3339.3 1905.0 L3342.7 1866.7 L3346.0 1850.0 L3348.3 1848.3 L3350.7 1883.3 L3354.0 1916.7 L3357.3 1966.7 L3360.0 1966.7 L3363.3 1933.3 L3366.0 1910.0 L3368.3 1908.3 L3370.7 1950.0 L3373.3 1976.7 L3376.7 1900.0 L3379.3 1833.3 L3381.7 1796.7 L3385.0 1833.3 L3387.3 1900.0 L3390.0 1926.7 L3392.7 1900.0 L3396.0 1833.3 L3399.3 1776.7 L3401.7 1800.0 L3404.0 1866.7 L3406.7 1883.3 L3409.3 1800.0 L3412.7 1666.7 L3413.0 1596.6 L3413.4 1526.5 L3413.8 1456.4 L3414.2 1386.3 L3414.7 1316.2 L3415.2 1246.1 L3415.7 1176.0 L3416.2 1105.9 L3416.9 1035.8 L3417.4 993.7 L3418.0 965.7 L3418.4 981.7 L3418.7 1005.8 L3419.2 1045.9 L3419.6 1086.0 L3419.9 1126.1 L3420.2 1166.2 L3420.6 1206.3 L3420.8 1246.4 L3421.1 1286.5 L3421.2 1326.6 L3421.3 1366.7 L3423.0 1494.3 L3423.4 1476.2 L3423.9 1458.0 L3424.3 1439.8 L3424.7 1421.7 L3425.2 1403.5 L3425.6 1385.3 L3426.0 1367.2 L3426.5 1349.0 L3426.9 1330.8 L3427.1 1319.9 L3427.3 1312.7 L3427.6 1324.2 L3427.9 1341.4 L3428.3 1370.1 L3428.6 1398.9 L3428.9 1427.6 L3429.1 1456.3 L3429.4 1485.1 L3429.7 1513.8 L3430.0 1542.5 L3430.3 1571.3 L3430.7 1600.0 L3433.3 1733.3 L3436.7 1800.0 L3440.0 1856.7 L3443.3 1800.0 L3446.7 1666.7 L3447.1 1644.6 L3447.5 1622.5 L3447.9 1600.5 L3448.3 1578.4 L3448.7 1556.3 L3449.1 1534.3 L3449.5 1512.2 L3449.9 1490.1 L3450.2 1468.1 L3450.4 1454.8 L3450.7 1446.0 L3450.9 1456.2 L3451.2 1471.4 L3451.5 1496.8 L3452.0 1522.2 L3452.4 1547.6 L3452.8 1573.0 L3453.3 1598.4 L3453.7 1623.8 L3454.1 1649.2 L3454.6 1674.6 L3455.0 1700.0 L3458.3 1766.7 L3461.7 1833.3 L3464.0 1870.0 L3466.7 1800.0 L3469.3 1740.0 L3471.7 1750.0 L3473.3 1748.3 L3476.0 1766.7 L3478.3 1793.3 L3480.7 1733.3 L3484.0 1703.3 L3486.7 1766.7 L3489.3 1826.7 L3491.7 1766.7 L3498.0 1552.7 L3500.0 1700.0 L3503.3 1800.0 L3506.0 1846.7 L3508.3 1800.0 L3511.7 1666.7 L3511.7 1631.9 L3511.7 1597.2 L3511.8 1562.5 L3512.0 1527.7 L3512.3 1493.0 L3512.6 1458.3 L3512.9 1423.5 L3513.3 1388.8 L3513.7 1354.1 L3514.0 1333.2 L3514.3 1319.3 L3514.6 1330.6 L3514.9 1347.4 L3515.3 1375.5 L3515.6 1403.5 L3515.9 1431.6 L3516.3 1459.7 L3516.7 1487.7 L3517.1 1515.8 L3517.5 1543.9 L3517.9 1571.9 L3518.3 1600.0 L3521.7 1700.0 L3525.0 1766.7 L3528.3 1833.3 L3530.7 1860.0 L3533.3 1876.7 L3536.7 1896.7 L3540.0 1898.3 L3543.3 1901.7 L3546.7 1783.3 L3550.0 1583.3 L3552.7 1543.3 L3555.0 1550.0 L3556.7 1650.0 L3558.3 1700.0 L3560.7 1733.3 L3562.7 1740.0 L3564.0 1750.0 L3566.7 1773.3 L3570.0 1650.0 L3573.3 1516.7 L3575.3 1447.0 L3578.3 1583.3 L3580.7 1716.7 L3582.7 1783.3 L3584.0 1795.0 L3586.7 1756.7 L3590.0 1750.0 L3593.3 1683.3 L3597.3 1600.0 L3600.0 1633.3 L3602.7 1666.7 L3605.0 1700.0 L3608.3 1750.0 L3610.7 1763.3 L3614.0 1760.0 L3616.7 1700.0 L3620.0 1676.7 L3621.7 1670.0 L3624.0 1700.0 L3626.7 1783.3 L3630.0 1850.0 L3633.3 1866.7 L3636.7 1856.7 L3640.0 1855.0 L3643.3 1853.3 L3647.3 1850.0 L3650.0 1783.3 L3653.3 1683.3 L3657.3 1585.0 L3660.0 1650.0 L3663.3 1766.7 L3666.0 1756.7 L3669.3 1723.3 L3671.7 1766.7 L3675.0 1850.0 L3677.3 1870.0 L3680.0 1816.7 L3683.3 1750.0 L3686.0 1735.0 L3688.3 1743.3 L3691.7 1756.7 L3694.0 1760.0 L3696.7 1816.7 L3699.3 1870.0 L3701.7 1800.0 L3705.0 1650.0 L3708.3 1516.7 L3710.0 1491.7 L3712.7 1516.7 L3715.0 1583.3 L3717.3 1550.0 L3720.0 1500.0 L3721.7 1488.3 L3724.0 1550.0 L3726.7 1683.3 L3729.3 1783.3 L3732.7 1850.0 L3736.7 1860.0 L3740.0 1848.3 L3742.7 1856.7 L3746.0 1783.3 L3750.0 1750.0 L3755.0 1740.0 L3758.3 1733.3 L3761.7 1743.3 L3764.0 1766.7 L3766.7 1773.3 L3769.3 1816.7 L3771.7 1883.3 L3773.3 1898.3 L3776.0 1883.3 L3779.3 1816.7 L3782.7 1716.7 L3786.7 1583.3 L3790.0 1483.3 L3793.3 1390.0 L3796.7 1550.0 L3800.0 1650.0 L3802.7 1710.0 L3805.0 1728.3 L3808.3 1650.0 L3811.7 1550.0 L3814.0 1516.7 L3816.0 1508.3 L3818.3 1533.3 L3820.7 1616.7 L3824.0 1716.7 L3826.7 1783.3 L3829.3 1870.0 L3832.7 1866.7 L3836.0 1850.0 L3838.3 1833.3 L3841.7 1783.3 L3845.0 1750.0 L3850.0 1683.3 L3854.0 1605.0 L3856.7 1650.0 L3859.3 1716.7 L3862.7 1790.0 L3865.0 1780.0 L3868.3 1716.7 L3871.7 1650.0 L3875.0 1516.7 L3875.8 1492.3 L3876.7 1468.0 L3877.5 1443.7 L3878.3 1419.3 L3879.2 1395.0 L3880.0 1370.7 L3880.8 1346.3 L3881.7 1322.0 L3882.5 1297.7 L3883.0 1283.1 L3883.3 1273.3 L3883.5 1280.4 L3883.7 1291.0 L3884.0 1308.7 L3884.3 1326.3 L3884.7 1344.0 L3885.0 1361.7 L3885.3 1379.3 L3885.7 1397.0 L3886.0 1414.7 L3886.3 1432.3 L3886.7 1450.0 L3889.3 1550.0 L3891.7 1616.7 L3894.0 1696.7 L3896.0 1650.0 L3898.3 1550.0 L3900.7 1435.3 L3903.3 1550.0 L3906.7 1650.0 L3910.0 1713.3 L3912.7 1666.7 L3915.0 1600.0 L3917.7 1570.0 L3920.0 1600.0 L3922.7 1650.0 L3925.0 1690.0 L3926.7 1693.3 L3929.3 1650.0 L3933.3 1550.0 L3939.3 1443.3 L3941.7 1550.0 L3945.0 1616.7 L3948.3 1650.0 L3951.7 1683.3 L3955.0 1723.3 L3958.3 1738.3 L3961.7 1716.7 L3965.0 1666.7 L3968.3 1616.7 L3972.3 1596.7 L3975.0 1616.7 L3978.3 1650.0 L3981.7 1676.7 L3985.0 1683.3 L3988.3 1583.3 L3991.7 1516.7 L3994.0 1500.0 L3996.7 1516.7 L3997.3 1491.7 L3997.9 1466.7 L3998.5 1441.8 L3999.1 1416.8 L3999.7 1391.8 L4000.3 1366.9 L4000.9 1341.9 L4001.5 1316.9 L4002.1 1292.0 L4002.4 1277.0 L4002.7 1267.0 L4003.0 1278.3 L4003.2 1295.3 L4003.6 1323.6 L4003.9 1351.9 L4004.2 1380.2 L4004.4 1408.5 L4004.7 1436.8 L4004.9 1465.1 L4004.9 1493.4 L4004.9 1521.7 L4005.0 1550.0 L4008.3 1616.7 L4011.7 1683.3 L4015.0 1686.7 L4018.3 1683.3 L4021.7 1616.7 L4026.7 1550.0 L4030.0 1583.3 L4033.3 1593.3 L4036.0 1650.0 L4039.3 1716.7 L4041.7 1733.3 L4045.0 1683.3 L4048.3 1583.3 L4051.7 1516.7 L4055.0 1508.3 L4058.3 1523.3 L4061.7 1533.3 L4064.0 1566.7 L4066.7 1573.3 L4070.0 1650.0 L4073.3 1750.0 L4076.7 1716.7 L4080.0 1650.0 L4083.3 1616.7 L4086.0 1623.3 L4088.3 1650.0 L4090.7 1693.3 L4094.0 1703.3 L4098.3 1703.3 L4103.3 1666.7 L4106.7 1656.7 L4110.0 1616.7 L4113.3 1516.7 L4115.7 1471.7 L4118.3 1516.7 L4120.7 1616.7 L4123.3 1716.7 L4126.0 1700.0 L4128.3 1713.3 L4130.7 1733.3 L4133.3 1750.0 L4136.7 1600.0 L4138.3 1533.3 L4140.7 1476.7 L4142.7 1516.7 L4144.0 1566.7 L4146.7 1626.7 L4148.3 1626.7 L4151.7 1600.0 L4154.0 1583.3 L4156.7 1533.3 L4158.3 1506.7 L4160.0 1533.3 L4161.7 1523.3 L4163.3 1566.7 L4166.0 1616.7 L4168.3 1666.7 L4170.7 1716.7 L4173.3 1743.3 L4176.0 1700.0 L4179.3 1658.3 L4182.7 1683.3 L4184.0 1733.3 L4186.0 1766.7 L4187.7 1788.3 L4190.0 1766.7 L4191.7 1756.7 L4194.0 1751.7 L4194.0 2726 L100.4 2726 Z"/></clipPath><g clip-path="url(#uc)"><clipPath id="f1"><polygon points="668.0,2003.0 680.0,2003.0 686.7,2455.0 666.7,2455.0"/></clipPath>
<clipPath id="f6"><polygon points="1027.7,2078.3 1039.2,2440.0 1015.0,2440.0"/></clipPath>
<clipPath id="f11"><polygon points="1274.3,2150.0 1280.0,2388.3 1266.0,2388.3"/></clipPath>
<clipPath id="f18"><polygon points="1643.2,1683.0 1656.8,1683.0 1660.8,2333.3 1638.3,2333.3"/></clipPath>
<clipPath id="f25"><polygon points="1949.0,1880.0 1956.7,2261.7 1936.7,2261.7"/></clipPath>
<clipPath id="f27"><polygon points="2010.0,2113.3 2021.8,2260.0 2000.0,2260.0"/></clipPath>
<clipPath id="f35"><polygon points="2226.8,1484.3 2239.2,1484.3 2244.2,2136.0 2223.3,2136.0"/></clipPath>
<clipPath id="f39"><polygon points="2405.0,49.0 2417.0,49.0 2421.7,2166.7 2401.7,2166.7"/></clipPath>
<clipPath id="f45"><polygon points="2726.7,1820.0 2736.0,2095.7 2717.7,2095.7"/></clipPath>
<clipPath id="f46"><polygon points="2739.3,1838.3 2749.0,2091.7 2728.3,2091.7"/></clipPath>
<clipPath id="f52"><polygon points="2920.0,758.0 2932.0,758.0 2935.0,2000.0 2915.0,2000.0"/></clipPath>
<clipPath id="f55"><polygon points="2987.4,1466.3 2999.3,1466.3 3002.5,1955.0 2982.7,1955.0"/></clipPath>
<clipPath id="f58"><polygon points="3091.7,1780.0 3100.0,2030.0 3079.3,2030.0"/></clipPath>
<clipPath id="f59"><polygon points="3099.1,1509.7 3111.6,1509.7 3114.2,2030.0 3093.3,2030.0"/></clipPath>
<clipPath id="f60"><polygon points="3115.4,1599.7 3127.9,1599.7 3130.0,2028.3 3109.2,2028.3"/></clipPath>
<clipPath id="f64"><polygon points="3231.7,1853.3 3243.3,1972.7 3223.3,1972.7"/></clipPath>
<clipPath id="f67"><polygon points="3298.3,1575.0 3306.7,1926.0 3289.3,1926.0"/></clipPath>
<clipPath id="f68"><polygon points="3309.3,1618.3 3323.3,1925.0 3297.7,1925.0"/></clipPath>
<clipPath id="f70"><polygon points="3381.7,1796.7 3392.7,1973.3 3372.7,1973.3"/></clipPath>
<clipPath id="f71"><polygon points="3399.3,1776.7 3409.3,1936.7 3390.0,1936.7"/></clipPath>
<clipPath id="f72"><polygon points="3412.5,964.7 3423.5,964.7 3426.7,1901.7 3408.3,1901.7"/></clipPath>
<clipPath id="f75"><polygon points="3469.3,1740.0 3480.0,1897.7 3456.7,1897.7"/></clipPath>
<clipPath id="f76"><polygon points="3484.0,1703.3 3488.3,1897.7 3466.7,1897.7"/></clipPath>
<clipPath id="f77"><polygon points="3498.0,1552.7 3507.5,1896.7 3486.7,1896.7"/></clipPath>
<clipPath id="f81"><polygon points="3597.3,1600.0 3610.8,1895.0 3584.0,1895.0"/></clipPath>
<clipPath id="f84"><polygon points="3710.0,1491.7 3726.7,1866.7 3701.7,1866.7"/></clipPath>
<clipPath id="f86"><polygon points="3755.0,1743.3 3763.3,1866.7 3741.7,1866.7"/></clipPath>
<clipPath id="f95"><polygon points="3972.3,1596.7 3983.3,1738.3 3964.3,1738.3"/></clipPath>
<clipPath id="f96"><polygon points="3994.0,1500.0 4003.3,1736.0 3981.7,1736.0"/></clipPath>
<clipPath id="f97"><polygon points="3995.4,1266.0 4009.9,1266.0 4015.8,1736.0 3991.7,1736.0"/></clipPath>
<polygon fill="#c06866" points="392.1,2127.8 403.3,2127.8 406.8,2536.3 388.1,2536.3"/>
<polygon fill="#68a884" points="668.0,2003.0 680.0,2003.0 686.7,2455.0 666.7,2455.0"/>
<polygon fill="#678faa" points="694.0,2131.7 700.0,2448.3 681.0,2448.3"/>
<polygon fill="#c06866" points="732.3,2086.7 740.0,2467.3 721.7,2467.3"/>
<polygon fill="#68a884" points="752.3,2193.3 760.7,2455.0 741.7,2455.0"/>
<polygon fill="#c06866" points="993.2,1861.0 1006.8,1861.0 1011.0,2446.7 988.3,2446.7"/>
<polygon fill="#68a884" points="1027.7,2078.3 1039.2,2440.0 1015.0,2440.0"/>
<polygon fill="#68a884" points="1046.7,2145.0 1057.3,2440.0 1034.2,2440.0"/>
<polygon fill="#68a884" points="1075.0,2335.0 1084.0,2441.7 1065.0,2441.7"/>
<polygon fill="#c06866" points="1115.0,2258.3 1125.0,2453.3 1105.0,2453.3"/>
<polygon fill="#678faa" points="1174.3,2168.3 1183.3,2438.3 1165.0,2438.3"/>
<polygon fill="#c06866" points="1274.3,2150.0 1280.0,2388.3 1266.0,2388.3"/>
<polygon fill="#68a884" points="1279.5,1432.7 1293.1,1432.7 1297.7,2388.3 1275.0,2388.3"/>
<polygon fill="#678faa" points="1305.0,1715.7 1316.4,1715.7 1322.3,2371.7 1303.3,2371.7"/>
<polygon fill="#c06866" points="1328.3,1956.7 1339.3,2352.3 1321.7,2352.3"/>
<polygon fill="#c06866" points="1480.7,2101.7 1490.0,2383.3 1471.7,2383.3"/>
<polygon fill="#c06866" points="1507.3,2060.0 1514.3,2403.3 1496.0,2403.3"/>
<polygon fill="#c06866" points="1581.0,1465.0 1593.0,1465.0 1597.7,2348.3 1577.7,2348.3"/>
<polygon fill="#68a884" points="1643.2,1683.0 1656.8,1683.0 1660.8,2333.3 1638.3,2333.3"/>
<polygon fill="#68a884" points="1661.8,1825.7 1674.2,1825.7 1676.7,2331.7 1655.8,2331.7"/>
<polygon fill="#678faa" points="1752.8,1889.0 1765.2,1889.0 1769.0,2318.3 1748.3,2318.3"/>
<polygon fill="#c06866" points="1826.7,1646.7 1838.7,1646.7 1843.3,2276.0 1823.3,2276.0"/>
<polygon fill="#68a884" points="1858.6,548.0 1870.0,548.0 1872.3,2266.0 1853.3,2266.0"/>
<polygon fill="#c06866" points="1877.7,1477.0 1889.7,1477.0 1892.3,2266.0 1872.3,2266.0"/>
<polygon fill="#68a884" points="1906.7,1712.3 1919.9,1712.3 1921.0,2264.0 1899.0,2264.0"/>
<polygon fill="#c06866" points="1949.0,1880.0 1956.7,2261.7 1936.7,2261.7"/>
<polygon fill="#c06866" points="1963.3,2110.0 1973.3,2262.3 1954.0,2262.3"/>
<polygon fill="#68a884" points="2010.0,2113.3 2021.8,2260.0 2000.0,2260.0"/>
<polygon fill="#68a884" points="2029.3,2106.7 2039.0,2257.3 2017.5,2257.3"/>
<polygon fill="#c06866" points="2048.3,2145.0 2057.7,2260.0 2041.7,2260.0"/>
<polygon fill="#68a884" points="2067.7,2096.7 2076.7,2261.0 2057.7,2261.0"/>
<polygon fill="#68a884" points="2093.3,2128.3 2101.7,2260.0 2082.7,2260.0"/>
<polygon fill="#c06866" points="2120.7,2153.3 2130.0,2276.7 2109.3,2276.7"/>
<polygon fill="#c06866" points="2135.8,1611.7 2147.6,1611.7 2152.3,2278.3 2132.7,2278.3"/>
<polygon fill="#c06866" points="2200.7,1784.7 2210.7,2163.3 2191.7,2163.3"/>
<polygon fill="#68a884" points="2226.8,1484.3 2239.2,1484.3 2244.2,2136.0 2223.3,2136.0"/>
<polygon fill="#68a884" points="2244.7,1484.3 2256.6,1484.3 2259.0,2139.3 2239.2,2139.3"/>
<polygon fill="#678faa" points="2301.7,1684.0 2313.7,1684.0 2318.3,2174.0 2298.3,2174.0"/>
<polygon fill="#c06866" points="2371.7,1710.0 2383.7,1710.0 2386.0,2175.0 2366.0,2175.0"/>
<polygon fill="#68a884" points="2405.0,49.0 2417.0,49.0 2421.7,2166.7 2401.7,2166.7"/>
<polygon fill="#c06866" points="2417.0,1205.0 2429.0,1205.0 2431.7,2168.3 2411.7,2168.3"/>
<polygon fill="#678faa" points="2440.0,1856.7 2449.3,2166.7 2430.0,2166.7"/>
<polygon fill="#68a884" points="2468.8,1177.3 2481.8,1177.3 2487.3,2149.0 2465.7,2149.0"/>
<polygon fill="#c06866" points="2623.3,1841.7 2630.7,2143.3 2611.7,2143.3"/>
<polygon fill="#c06866" points="2666.8,1639.3 2677.8,1639.3 2681.7,2170.7 2663.3,2170.7"/>
<polygon fill="#c06866" points="2726.7,1820.0 2736.0,2095.7 2717.7,2095.7"/>
<polygon fill="#c06866" points="2739.3,1838.3 2749.0,2091.7 2728.3,2091.7"/>
<polygon fill="#68a884" points="2746.7,1883.3 2756.7,2096.7 2738.3,2096.7"/>
<polygon fill="#68a884" points="2773.8,1584.7 2786.2,1584.7 2787.3,2075.0 2766.7,2075.0"/>
<polygon fill="#68a884" points="2795.3,1037.0 2806.7,1037.0 2810.0,2070.7 2791.0,2070.7"/>
<polygon fill="#678faa" points="2826.7,1674.3 2836.0,2067.7 2817.7,2067.7"/>
<polygon fill="#c06866" points="2901.7,1788.3 2909.0,2104.0 2889.3,2104.0"/>
<polygon fill="#68a884" points="2920.0,758.0 2932.0,758.0 2935.0,2000.0 2915.0,2000.0"/>
<polygon fill="#c06866" points="2932.5,1364.7 2944.9,1364.7 2952.3,2000.0 2931.7,2000.0"/>
<polygon fill="#678faa" points="2959.0,1700.3 2970.0,1960.7 2951.0,1960.7"/>
<polygon fill="#68a884" points="2987.4,1466.3 2999.3,1466.3 3002.5,1955.0 2982.7,1955.0"/>
<polygon fill="#68a884" points="3002.1,1211.7 3015.2,1211.7 3020.0,1956.7 2998.2,1956.7"/>
<polygon fill="#68a884" points="3052.7,1823.3 3060.7,2032.3 3042.7,2032.3"/>
<polygon fill="#c06866" points="3091.7,1780.0 3100.0,2030.0 3079.3,2030.0"/>
<polygon fill="#c06866" points="3099.1,1509.7 3111.6,1509.7 3114.2,2030.0 3093.3,2030.0"/>
<polygon fill="#c06866" points="3115.4,1599.7 3127.9,1599.7 3130.0,2028.3 3109.2,2028.3"/>
<polygon fill="#c06866" points="3131.7,1780.0 3145.0,2028.3 3120.0,2028.3"/>
<polygon fill="#c06866" points="3169.4,1570.7 3184.0,1570.7 3188.3,2026.0 3164.0,2026.0"/>
<polygon fill="#68a884" points="3200.7,1783.3 3211.0,1975.0 3192.3,1975.0"/>
<polygon fill="#c06866" points="3231.7,1853.3 3243.3,1972.7 3223.3,1972.7"/>
<polygon fill="#c06866" points="3241.7,1720.0 3254.0,1971.7 3231.7,1971.7"/>
<polygon fill="#678faa" points="3268.0,1559.7 3276.7,1951.7 3258.3,1951.7"/>
<polygon fill="#68a884" points="3298.3,1575.0 3306.7,1926.0 3289.3,1926.0"/>
<polygon fill="#c06866" points="3309.3,1618.3 3323.3,1925.0 3297.7,1925.0"/>
<polygon fill="#68a884" points="3315.7,1189.7 3326.9,1189.7 3332.7,1924.0 3314.0,1924.0"/>
<polygon fill="#c06866" points="3381.7,1796.7 3392.7,1973.3 3372.7,1973.3"/>
<polygon fill="#c06866" points="3399.3,1776.7 3409.3,1936.7 3390.0,1936.7"/>
<polygon fill="#68a884" points="3412.5,964.7 3423.5,964.7 3426.7,1901.7 3408.3,1901.7"/>
<polygon fill="#c06866" points="3421.8,1311.7 3432.8,1311.7 3436.7,1901.0 3418.3,1901.0"/>
<polygon fill="#678faa" points="3445.2,1445.0 3456.2,1445.0 3458.3,1896.7 3440.0,1896.7"/>
<polygon fill="#c06866" points="3469.3,1740.0 3480.0,1897.7 3456.7,1897.7"/>
<polygon fill="#c06866" points="3484.0,1703.3 3488.3,1897.7 3466.7,1897.7"/>
<polygon fill="#68a884" points="3498.0,1552.7 3507.5,1896.7 3486.7,1896.7"/>
<polygon fill="#68a884" points="3506.3,1318.3 3522.3,1318.3 3530.0,1896.7 3502.5,1896.7"/>
<polygon fill="#c06866" points="3552.7,1543.3 3561.7,1898.3 3543.3,1898.3"/>
<polygon fill="#c06866" points="3569.9,1446.0 3580.7,1446.0 3582.3,1896.7 3564.3,1896.7"/>
<polygon fill="#c06866" points="3597.3,1600.0 3610.8,1895.0 3584.0,1895.0"/>
<polygon fill="#c06866" points="3621.7,1670.0 3632.7,1892.7 3605.8,1892.7"/>
<polygon fill="#c06866" points="3657.3,1585.0 3666.7,1869.3 3648.3,1869.3"/>
<polygon fill="#c06866" points="3710.0,1491.7 3726.7,1866.7 3701.7,1866.7"/>
<polygon fill="#c06866" points="3721.7,1488.3 3732.7,1866.7 3708.3,1866.7"/>
<polygon fill="#c06866" points="3755.0,1743.3 3763.3,1866.7 3741.7,1866.7"/>
<polygon fill="#68a884" points="3760.7,1746.7 3770.0,1866.7 3753.3,1866.7"/>
<polygon fill="#68a884" points="3787.3,1389.0 3799.3,1389.0 3803.3,1869.3 3783.3,1869.3"/>
<polygon fill="#68a884" points="3816.0,1508.3 3826.7,1868.3 3806.7,1868.3"/>
<polygon fill="#c06866" points="3854.0,1605.0 3862.7,1861.7 3843.3,1861.7"/>
<polygon fill="#68a884" points="3877.6,1272.3 3889.0,1272.3 3890.7,1773.3 3871.7,1773.3"/>
<polygon fill="#c06866" points="3900.7,1435.3 3910.0,1712.3 3891.7,1712.3"/>
<polygon fill="#68a884" points="3917.7,1570.0 3926.7,1712.3 3910.0,1712.3"/>
<polygon fill="#c06866" points="3939.3,1443.3 3953.3,1715.0 3926.7,1715.0"/>
<polygon fill="#68a884" points="3972.3,1596.7 3983.3,1738.3 3964.3,1738.3"/>
<polygon fill="#68a884" points="3994.0,1500.0 4003.3,1736.0 3981.7,1736.0"/>
<polygon fill="#c06866" points="3995.4,1266.0 4009.9,1266.0 4015.8,1736.0 3991.7,1736.0"/>
<polygon fill="#c06866" points="4026.7,1550.0 4040.0,1740.0 4011.5,1740.0"/>
<polygon fill="#c06866" points="4055.0,1508.3 4070.0,1748.3 4042.7,1748.3"/>
<polygon fill="#68a884" points="4083.3,1616.7 4094.0,1745.0 4073.3,1745.0"/>
<polygon fill="#2589aa" clip-path="url(#f1)" points="694.0,2131.7 700.0,2448.3 681.0,2448.3"/>
<polygon fill="#26aa5c" clip-path="url(#f6)" points="1046.7,2145.0 1057.3,2440.0 1034.2,2440.0"/>
<polygon fill="#a8603f" clip-path="url(#f11)" points="1279.5,1432.7 1293.1,1432.7 1297.7,2388.3 1275.0,2388.3"/>
<polygon fill="#26aa5c" clip-path="url(#f18)" points="1661.8,1825.7 1674.2,1825.7 1676.7,2331.7 1655.8,2331.7"/>
<polygon fill="#e02626" clip-path="url(#f25)" points="1963.3,2110.0 1973.3,2262.3 1954.0,2262.3"/>
<polygon fill="#26aa5c" clip-path="url(#f27)" points="2029.3,2106.7 2039.0,2257.3 2017.5,2257.3"/>
<polygon fill="#26aa5c" clip-path="url(#f35)" points="2244.7,1484.3 2256.6,1484.3 2259.0,2139.3 2239.2,2139.3"/>
<polygon fill="#a8603f" clip-path="url(#f39)" points="2417.0,1205.0 2429.0,1205.0 2431.7,2168.3 2411.7,2168.3"/>
<polygon fill="#e02626" clip-path="url(#f45)" points="2739.3,1838.3 2749.0,2091.7 2728.3,2091.7"/>
<polygon fill="#a8603f" clip-path="url(#f46)" points="2746.7,1883.3 2756.7,2096.7 2738.3,2096.7"/>
<polygon fill="#a8603f" clip-path="url(#f52)" points="2932.5,1364.7 2944.9,1364.7 2952.3,2000.0 2931.7,2000.0"/>
<polygon fill="#26aa5c" clip-path="url(#f55)" points="3002.1,1211.7 3015.2,1211.7 3020.0,1956.7 2998.2,1956.7"/>
<polygon fill="#e02626" clip-path="url(#f58)" points="3099.1,1509.7 3111.6,1509.7 3114.2,2030.0 3093.3,2030.0"/>
<polygon fill="#e02626" clip-path="url(#f59)" points="3115.4,1599.7 3127.9,1599.7 3130.0,2028.3 3109.2,2028.3"/>
<polygon fill="#e02626" clip-path="url(#f60)" points="3131.7,1780.0 3145.0,2028.3 3120.0,2028.3"/>
<polygon fill="#e02626" clip-path="url(#f64)" points="3241.7,1720.0 3254.0,1971.7 3231.7,1971.7"/>
<polygon fill="#a8603f" clip-path="url(#f67)" points="3309.3,1618.3 3323.3,1925.0 3297.7,1925.0"/>
<polygon fill="#a8603f" clip-path="url(#f68)" points="3315.7,1189.7 3326.9,1189.7 3332.7,1924.0 3314.0,1924.0"/>
<polygon fill="#e02626" clip-path="url(#f70)" points="3399.3,1776.7 3409.3,1936.7 3390.0,1936.7"/>
<polygon fill="#a8603f" clip-path="url(#f71)" points="3412.5,964.7 3423.5,964.7 3426.7,1901.7 3408.3,1901.7"/>
<polygon fill="#a8603f" clip-path="url(#f72)" points="3421.8,1311.7 3432.8,1311.7 3436.7,1901.0 3418.3,1901.0"/>
<polygon fill="#e02626" clip-path="url(#f75)" points="3484.0,1703.3 3488.3,1897.7 3466.7,1897.7"/>
<polygon fill="#a8603f" clip-path="url(#f76)" points="3498.0,1552.7 3507.5,1896.7 3486.7,1896.7"/>
<polygon fill="#26aa5c" clip-path="url(#f77)" points="3506.3,1318.3 3522.3,1318.3 3530.0,1896.7 3502.5,1896.7"/>
<polygon fill="#e02626" clip-path="url(#f81)" points="3621.7,1670.0 3632.7,1892.7 3605.8,1892.7"/>
<polygon fill="#e02626" clip-path="url(#f84)" points="3721.7,1488.3 3732.7,1866.7 3708.3,1866.7"/>
<polygon fill="#a8603f" clip-path="url(#f86)" points="3760.7,1746.7 3770.0,1866.7 3753.3,1866.7"/>
<polygon fill="#26aa5c" clip-path="url(#f95)" points="3994.0,1500.0 4003.3,1736.0 3981.7,1736.0"/>
<polygon fill="#a8603f" clip-path="url(#f96)" points="3995.4,1266.0 4009.9,1266.0 4015.8,1736.0 3991.7,1736.0"/>
<polygon fill="#e02626" clip-path="url(#f97)" points="4026.7,1550.0 4040.0,1740.0 4011.5,1740.0"/></g>
<path d="M100.4 2494.7 L104.6 2449.0 L105.8 2444.8 L110.8 2515.5 L114.9 2513.4 L118.3 2519.6 L123.3 2490.5 L127.4 2449.0 L133.7 2399.1 L137.8 2432.3 L142.0 2451.0 L144.9 2444.8 L148.2 2453.1 L153.2 2509.3 L156.5 2490.5 L161.9 2419.9 L166.9 2465.6 L171.1 2507.2 L175.2 2517.6 L179.4 2507.2 L183.6 2515.5 L188.5 2530.0 L193.1 2449.0 L198.1 2345.0 L203.1 2394.9 L208.5 2490.5 L210.6 2509.3 L213.9 2498.9 L218.9 2519.6 L223.9 2536.3 L229.3 2538.4 L235.5 2532.1 L239.7 2523.8 L245.1 2500.9 L248.0 2503.0 L252.2 2519.6 L256.3 2515.5 L260.5 2503.0 L264.6 2528.0 L268.0 2540.4 L275.0 2523.8 L281.3 2490.5 L285.4 2473.9 L289.6 2507.2 L293.7 2525.9 L297.9 2523.8 L302.1 2525.9 L306.2 2498.9 L310.4 2490.5 L316.6 2503.0 L320.8 2532.1 L324.9 2490.5 L330.3 2451.0 L335.3 2482.2 L339.5 2515.5 L343.6 2528.0 L349.0 2540.4 L354.0 2536.3 L358.2 2498.9 L362.3 2496.8 L367.8 2507.2 L374.8 2482.2 L379.0 2407.4 L382.3 2320.1 L386.0 2365.8 L389.4 2411.5 L391.5 2417.8 L394.4 2324.2 L397.7 2128.8 L401.9 2241.1 L404.8 2324.2 L406.8 2382.4 L412.2 2386.6 L416.4 2449.0 L420.6 2503.0 L424.7 2507.2 L428.9 2505.1 L433.0 2515.5 L439.3 2530.0 L447.6 2530.0 L455.9 2519.6 L462.1 2507.2 L466.3 2449.0 L472.5 2353.3 L476.7 2374.1 L479.6 2449.0 L482.9 2482.2 L489.2 2478.1 L495.4 2449.0 L500.8 2409.5 L505.8 2440.6 L510.0 2370.0 L517.0 2255.6 L522.4 2286.8 L526.6 2303.4 L530.7 2407.4 L535.7 2469.8 L541.1 2482.2 L547.4 2449.0 L551.5 2415.7 L555.7 2407.4 L560.7 2407.4 L564.0 2428.2 L568.2 2415.7 L572.3 2428.2 L578.6 2444.8 L586.9 2467.7 L591.0 2428.2 L594.4 2359.6 L598.1 2403.2 L602.3 2444.8 L605.6 2374.1 L609.8 2261.9 L613.5 2205.7 L617.2 2241.1 L622.2 2365.8 L626.4 2440.6 L634.7 2473.9 L640.9 2453.1 L643.3 2428.3 L646.7 2430.0 L651.7 2450.0 L655.0 2433.3 L658.3 2423.3 L663.3 2416.7 L666.7 2350.0 L670.0 2216.7 L674.0 2004.0 L677.3 2116.7 L680.0 2216.7 L682.7 2250.0 L685.0 2253.3 L688.3 2200.0 L691.7 2140.0 L694.0 2131.7 L696.7 2183.3 L699.3 2333.3 L701.7 2383.3 L703.3 2423.3 L706.7 2423.3 L710.0 2428.3 L713.3 2436.7 L716.7 2440.0 L720.0 2426.7 L723.3 2416.7 L727.3 2250.0 L730.0 2150.0 L732.3 2086.7 L735.0 2183.3 L737.3 2350.0 L740.0 2460.0 L741.7 2456.7 L745.0 2383.3 L749.3 2250.0 L752.3 2193.3 L755.0 2250.0 L757.3 2383.3 L759.3 2440.0 L761.7 2440.0 L764.0 2416.7 L767.3 2395.0 L770.0 2416.7 L773.3 2450.0 L776.7 2473.3 L779.3 2483.3 L781.7 2450.0 L786.0 2416.7 L788.3 2415.0 L790.0 2426.7 L792.7 2416.7 L796.0 2411.7 L799.3 2423.3 L803.3 2435.0 L806.7 2436.7 L810.0 2400.0 L813.3 2383.3 L816.7 2386.7 L820.0 2410.0 L822.7 2426.7 L826.7 2425.0 L830.0 2443.3 L833.3 2470.0 L837.3 2483.3 L840.0 2463.3 L843.3 2423.3 L847.3 2398.3 L851.7 2405.0 L856.7 2415.0 L860.0 2390.0 L863.3 2350.0 L866.0 2343.3 L869.3 2350.0 L872.7 2383.3 L876.0 2410.0 L880.0 2440.0 L884.0 2463.3 L888.3 2456.7 L892.7 2426.7 L896.0 2413.3 L898.3 2426.7 L901.0 2450.0 L904.0 2461.7 L906.7 2443.3 L909.3 2431.7 L911.7 2436.7 L914.0 2456.7 L916.7 2463.3 L920.0 2455.0 L923.3 2456.7 L926.7 2458.3 L930.0 2426.7 L933.3 2366.7 L936.7 2345.0 L940.0 2355.0 L943.3 2393.3 L946.7 2423.3 L950.7 2443.3 L953.3 2416.7 L955.0 2415.0 L958.3 2430.0 L961.7 2463.3 L965.0 2471.7 L968.3 2433.3 L971.7 2393.3 L976.7 2366.7 L980.0 2370.0 L983.3 2410.0 L986.7 2440.0 L989.3 2445.0 L991.7 2383.3 L995.0 2250.0 L998.3 2116.7 L998.4 2091.2 L998.4 2065.7 L998.4 2040.3 L998.4 2014.8 L998.4 1989.3 L998.6 1963.9 L998.9 1938.4 L999.1 1912.9 L999.5 1887.5 L999.7 1872.2 L1000.0 1862.0 L1000.3 1870.9 L1000.5 1884.1 L1000.8 1906.3 L1001.0 1928.4 L1001.3 1950.5 L1001.7 1972.7 L1002.0 1994.8 L1002.3 2016.9 L1002.7 2039.1 L1003.0 2061.2 L1003.3 2083.3 L1006.7 2216.7 L1010.0 2350.0 L1011.7 2416.7 L1015.0 2430.0 L1018.3 2383.3 L1022.7 2250.0 L1026.0 2116.7 L1027.7 2078.3 L1030.7 2083.3 L1032.7 2150.0 L1035.0 2250.0 L1037.3 2320.0 L1040.0 2300.0 L1043.3 2216.7 L1046.7 2145.0 L1049.3 2183.3 L1051.7 2283.3 L1054.0 2383.3 L1056.7 2420.0 L1060.0 2423.3 L1063.3 2413.3 L1067.3 2408.3 L1071.7 2370.0 L1075.0 2335.0 L1078.3 2366.7 L1081.7 2416.7 L1085.0 2450.0 L1088.3 2456.7 L1091.7 2455.0 L1095.0 2456.7 L1098.3 2450.0 L1103.3 2400.0 L1106.7 2350.0 L1110.0 2283.3 L1115.0 2258.3 L1118.3 2263.3 L1120.7 2316.7 L1123.3 2366.7 L1126.7 2400.0 L1130.0 2410.0 L1133.3 2416.7 L1136.7 2436.7 L1139.0 2436.7 L1141.7 2383.3 L1145.0 2316.7 L1149.3 2288.3 L1152.7 2300.0 L1156.0 2350.0 L1159.3 2400.0 L1162.7 2433.3 L1166.0 2438.3 L1168.3 2350.0 L1171.7 2216.7 L1174.3 2168.3 L1176.7 2200.0 L1179.3 2326.7 L1181.7 2293.3 L1184.0 2288.3 L1186.7 2316.7 L1189.3 2350.0 L1193.3 2380.0 L1197.3 2386.7 L1201.7 2403.3 L1206.7 2418.3 L1210.0 2410.0 L1213.3 2366.7 L1216.7 2361.7 L1220.0 2376.7 L1224.0 2383.3 L1225.0 2383.3 L1229.3 2405.0 L1233.3 2383.3 L1236.7 2360.0 L1239.3 2330.0 L1241.7 2346.7 L1245.0 2370.0 L1248.3 2350.0 L1251.7 2326.7 L1255.0 2320.0 L1258.3 2323.3 L1261.7 2350.0 L1265.0 2393.3 L1268.3 2316.7 L1272.7 2183.3 L1274.0 2146.7 L1276.0 2183.3 L1278.3 2116.7 L1281.7 1950.0 L1282.1 1898.4 L1282.6 1846.7 L1282.9 1795.1 L1283.3 1743.5 L1283.6 1691.8 L1284.0 1640.2 L1284.5 1588.6 L1284.9 1536.9 L1285.5 1485.3 L1285.9 1454.3 L1286.3 1433.7 L1286.9 1458.3 L1287.3 1495.3 L1287.9 1556.9 L1288.3 1618.6 L1288.3 1680.2 L1288.3 1741.8 L1288.3 1803.5 L1288.3 1865.1 L1288.3 1926.7 L1288.3 1988.4 L1288.3 2050.0 L1291.7 2183.3 L1295.0 2220.0 L1298.3 2166.7 L1301.7 2143.3 L1304.0 2173.3 L1306.0 2083.3 L1308.3 1950.0 L1308.4 1926.7 L1308.5 1903.3 L1308.7 1880.0 L1308.9 1856.7 L1309.1 1833.3 L1309.4 1810.0 L1309.6 1786.7 L1309.9 1763.3 L1310.2 1740.0 L1310.4 1726.0 L1310.7 1716.7 L1311.0 1730.0 L1311.3 1750.0 L1311.7 1783.3 L1312.0 1816.7 L1312.4 1850.0 L1312.6 1883.3 L1312.9 1916.7 L1313.2 1950.0 L1313.4 1983.3 L1313.7 2016.7 L1314.0 2050.0 L1316.7 2150.0 L1320.0 2216.7 L1321.7 2250.0 L1325.0 2083.3 L1328.3 1956.7 L1330.7 2000.0 L1333.3 2150.0 L1336.0 2233.3 L1338.3 2243.3 L1341.7 2236.7 L1345.0 2228.3 L1347.3 2240.0 L1350.7 2300.0 L1353.3 2350.0 L1356.7 2283.3 L1360.0 2216.7 L1362.7 2190.0 L1365.3 2216.7 L1368.3 2250.0 L1371.7 2260.0 L1375.0 2283.3 L1380.0 2310.0 L1384.0 2323.3 L1386.7 2316.7 L1390.0 2266.7 L1392.0 2230.0 L1395.0 2266.7 L1398.3 2333.3 L1405.0 2366.7 L1408.3 2333.3 L1411.0 2298.3 L1414.0 2306.7 L1416.7 2290.0 L1420.0 2283.3 L1422.7 2290.0 L1425.0 2333.3 L1429.3 2360.0 L1433.3 2350.0 L1438.3 2308.3 L1441.7 2326.7 L1445.0 2360.0 L1450.0 2380.0 L1453.3 2373.3 L1456.7 2356.7 L1460.0 2350.0 L1465.0 2320.0 L1466.7 2313.3 L1469.3 2323.3 L1472.0 2336.7 L1475.0 2250.0 L1478.3 2150.0 L1480.7 2101.7 L1483.3 2183.3 L1486.7 2283.3 L1490.0 2363.3 L1492.7 2350.0 L1496.0 2326.7 L1498.3 2330.0 L1501.7 2216.7 L1505.0 2116.7 L1507.3 2060.0 L1510.0 2150.0 L1512.7 2283.3 L1515.0 2366.7 L1518.3 2400.0 L1521.7 2411.7 L1525.0 2390.0 L1528.3 2350.0 L1531.7 2316.7 L1535.0 2303.3 L1539.3 2300.0 L1542.7 2316.7 L1546.0 2350.0 L1550.0 2386.7 L1552.7 2380.0 L1556.0 2316.7 L1558.3 2300.0 L1560.7 2283.3 L1563.3 2316.7 L1566.0 2336.7 L1568.3 2326.7 L1571.7 2333.3 L1575.0 2348.3 L1578.3 2346.7 L1581.7 2216.7 L1585.0 2016.7 L1585.1 1961.6 L1585.1 1906.5 L1585.1 1851.5 L1585.1 1796.4 L1585.1 1741.3 L1585.1 1686.3 L1585.1 1631.2 L1585.5 1576.1 L1586.1 1521.1 L1586.5 1488.0 L1587.0 1466.0 L1587.5 1488.0 L1587.9 1521.1 L1588.5 1576.1 L1589.0 1631.2 L1589.4 1686.3 L1589.8 1741.3 L1589.9 1796.4 L1589.9 1851.5 L1589.9 1906.5 L1589.9 1961.6 L1590.0 2016.7 L1592.7 2150.0 L1595.0 2233.3 L1598.3 2256.7 L1601.7 2266.7 L1604.0 2300.0 L1607.3 2366.7 L1610.0 2283.3 L1613.3 2183.3 L1615.7 2157.3 L1618.3 2216.7 L1621.7 2300.0 L1625.0 2350.0 L1628.3 2346.7 L1633.3 2330.0 L1636.7 2326.7 L1640.7 2216.7 L1645.0 2050.0 L1645.5 2013.4 L1646.0 1976.8 L1646.5 1940.2 L1647.0 1903.6 L1647.5 1867.0 L1648.0 1830.4 L1648.5 1793.8 L1648.9 1757.2 L1649.3 1720.6 L1649.6 1698.6 L1650.0 1684.0 L1650.4 1701.3 L1650.8 1727.3 L1651.2 1770.5 L1651.7 1813.8 L1652.0 1857.1 L1652.4 1900.3 L1652.7 1943.6 L1653.0 1986.9 L1653.2 2030.1 L1653.2 2073.4 L1653.3 2116.7 L1656.7 2250.0 L1658.3 2283.3 L1661.7 2183.3 L1665.0 2016.7 L1665.3 1997.7 L1665.6 1978.7 L1665.9 1959.7 L1666.2 1940.7 L1666.5 1921.7 L1666.8 1902.7 L1667.1 1883.7 L1667.3 1864.7 L1667.6 1845.7 L1667.8 1834.3 L1668.0 1826.7 L1668.3 1838.3 L1668.6 1855.7 L1668.9 1884.7 L1669.3 1913.7 L1669.5 1942.7 L1669.8 1971.7 L1670.0 2000.7 L1670.3 2029.7 L1670.5 2058.7 L1670.6 2087.7 L1670.7 2116.7 L1674.0 2166.7 L1676.7 2143.3 L1679.3 2131.7 L1682.7 2150.0 L1685.0 2216.7 L1687.3 2266.7 L1690.0 2271.7 L1692.7 2243.3 L1695.0 2223.3 L1697.3 2236.7 L1700.0 2266.7 L1703.3 2316.7 L1706.7 2363.3 L1710.0 2333.3 L1713.3 2330.0 L1716.7 2343.3 L1721.7 2353.3 L1725.0 2333.3 L1728.3 2283.3 L1731.7 2223.3 L1735.0 2205.0 L1737.7 2250.0 L1740.7 2316.7 L1745.0 2321.7 L1748.3 2283.3 L1751.7 2116.7 L1752.4 2094.0 L1753.1 2071.3 L1753.9 2048.7 L1754.6 2026.0 L1755.3 2003.3 L1756.1 1980.7 L1756.8 1958.0 L1757.5 1935.3 L1758.3 1912.7 L1758.7 1899.1 L1759.0 1890.0 L1759.3 1899.1 L1759.5 1912.7 L1759.8 1935.3 L1760.1 1958.0 L1760.3 1980.7 L1760.5 2003.3 L1760.7 2026.0 L1760.9 2048.7 L1761.1 2071.3 L1761.4 2094.0 L1761.7 2116.7 L1764.0 2186.7 L1767.3 2190.0 L1770.7 2216.7 L1774.0 2243.3 L1776.7 2216.7 L1780.0 2206.7 L1783.3 2213.3 L1786.7 2160.0 L1789.3 2176.7 L1791.7 2250.0 L1795.0 2296.7 L1797.3 2295.0 L1800.0 2250.0 L1802.7 2216.7 L1802.7 2150.0 L1806.7 2093.3 L1809.3 2116.7 L1811.7 2166.7 L1813.3 2183.3 L1816.0 2171.7 L1818.3 2186.7 L1820.7 2216.7 L1823.3 2266.7 L1825.0 2268.3 L1828.3 2150.0 L1828.7 2099.8 L1829.0 2049.5 L1829.3 1999.3 L1829.7 1949.1 L1830.0 1898.8 L1830.4 1848.6 L1830.8 1798.4 L1831.3 1748.1 L1831.8 1697.9 L1832.2 1667.8 L1832.7 1647.7 L1833.0 1658.4 L1833.2 1674.6 L1833.6 1701.5 L1833.9 1728.4 L1834.1 1755.3 L1834.4 1782.2 L1834.6 1809.1 L1834.8 1836.0 L1834.9 1862.9 L1834.9 1889.8 L1835.0 1916.7 L1838.3 2050.0 L1840.7 2150.0 L1842.7 2216.7 L1845.0 2263.3 L1848.3 2273.3 L1851.7 2270.0 L1854.0 2183.3 L1857.3 2016.7 L1857.5 1869.9 L1857.5 1723.1 L1857.5 1576.4 L1858.0 1429.6 L1858.8 1282.8 L1859.6 1136.1 L1860.4 989.3 L1861.4 842.5 L1862.5 695.8 L1863.4 607.7 L1864.3 549.0 L1865.2 601.0 L1866.0 679.1 L1867.0 809.2 L1867.9 939.3 L1868.2 1069.4 L1868.2 1199.5 L1868.2 1329.6 L1868.2 1459.7 L1868.2 1589.8 L1868.2 1719.9 L1868.3 1850.0 L1870.7 1983.3 L1872.7 2086.7 L1875.0 1950.0 L1875.9 1902.8 L1876.7 1855.6 L1877.6 1808.4 L1878.5 1761.2 L1879.3 1714.0 L1880.2 1666.8 L1881.1 1619.6 L1881.9 1572.4 L1882.8 1525.2 L1883.2 1496.9 L1883.7 1478.0 L1884.1 1495.5 L1884.4 1521.9 L1884.9 1565.7 L1885.3 1609.6 L1885.7 1653.5 L1885.9 1697.3 L1885.9 1741.2 L1885.9 1785.1 L1885.9 1828.9 L1885.9 1872.8 L1886.0 1916.7 L1887.3 1936.7 L1891.7 1938.3 L1893.3 1983.3 L1896.7 2116.7 L1899.3 2170.0 L1901.7 2150.0 L1905.0 2016.7 L1905.8 1986.3 L1906.7 1956.0 L1907.5 1925.7 L1908.3 1895.3 L1909.2 1865.0 L1910.0 1834.7 L1910.8 1804.3 L1911.7 1774.0 L1912.5 1743.7 L1913.0 1725.5 L1913.3 1713.3 L1913.6 1721.5 L1913.8 1733.7 L1914.1 1754.0 L1914.3 1774.3 L1914.7 1794.7 L1915.0 1815.0 L1915.3 1835.3 L1915.7 1855.7 L1916.0 1876.0 L1916.3 1896.3 L1916.7 1916.7 L1918.3 2043.3 L1920.7 2000.0 L1924.3 1905.0 L1926.7 1950.0 L1930.0 2083.3 L1932.7 2183.3 L1935.0 2133.3 L1937.3 2130.0 L1940.0 2170.0 L1942.7 2016.7 L1946.7 1916.7 L1949.0 1880.0 L1951.7 1950.0 L1954.0 2083.3 L1956.0 2196.7 L1958.3 2150.0 L1960.7 2116.7 L1963.3 2110.0 L1965.7 2133.3 L1968.3 2183.3 L1971.7 2250.0 L1976.0 2263.3 L1982.7 2278.3 L1986.7 2263.3 L1990.0 2226.7 L1994.0 2216.7 L1997.3 2233.3 L2000.7 2250.0 L2004.0 2216.7 L2007.3 2150.0 L2010.0 2113.3 L2013.3 2150.0 L2016.7 2216.7 L2019.3 2243.3 L2021.7 2216.7 L2025.0 2150.0 L2029.3 2106.7 L2032.7 2133.3 L2036.0 2173.3 L2040.0 2186.7 L2046.0 2196.7 L2048.3 2145.0 L2050.7 2150.0 L2053.3 2183.3 L2056.7 2250.0 L2058.3 2246.7 L2061.7 2183.3 L2065.0 2116.7 L2067.7 2096.7 L2070.7 2116.7 L2074.0 2176.7 L2077.3 2190.0 L2080.0 2190.0 L2082.7 2216.7 L2085.0 2223.3 L2087.3 2183.3 L2090.7 2136.7 L2093.3 2128.3 L2096.0 2150.0 L2098.3 2200.0 L2101.7 2250.0 L2105.0 2250.0 L2108.3 2231.7 L2111.7 2250.0 L2115.0 2200.0 L2118.3 2156.7 L2120.7 2153.3 L2123.3 2183.3 L2126.7 2233.3 L2130.0 2273.3 L2132.3 2280.0 L2135.0 2183.3 L2138.3 2016.7 L2138.4 1976.3 L2138.5 1935.9 L2138.8 1895.5 L2139.1 1855.1 L2139.4 1814.7 L2139.7 1774.3 L2140.1 1733.9 L2140.5 1693.5 L2140.9 1653.1 L2141.3 1628.8 L2141.7 1612.7 L2142.1 1628.8 L2142.4 1653.1 L2142.9 1693.5 L2143.2 1733.9 L2143.6 1774.3 L2143.9 1814.7 L2144.2 1855.1 L2144.5 1895.5 L2144.8 1935.9 L2144.9 1976.3 L2145.0 2016.7 L2148.3 2183.3 L2151.7 2250.0 L2155.0 2256.7 L2158.3 2240.0 L2163.3 2233.3 L2166.7 2216.7 L2170.0 2200.0 L2173.3 2213.3 L2176.7 2196.7 L2181.7 2183.3 L2185.0 2170.0 L2188.3 2160.0 L2191.7 2150.0 L2195.0 2050.0 L2198.3 1916.7 L2200.7 1784.7 L2205.0 1883.3 L2207.3 1983.3 L2210.0 2043.3 L2215.0 2066.7 L2218.3 2083.3 L2220.7 2116.7 L2222.7 2143.3 L2225.0 2016.7 L2225.8 1963.5 L2226.6 1910.4 L2227.4 1857.3 L2228.2 1804.1 L2229.0 1751.0 L2229.8 1697.9 L2230.6 1644.7 L2231.4 1591.6 L2232.1 1538.5 L2232.5 1506.6 L2233.0 1485.3 L2233.4 1503.9 L2233.8 1531.8 L2234.3 1578.3 L2234.7 1624.7 L2235.1 1671.2 L2235.5 1717.7 L2235.8 1764.1 L2236.2 1810.6 L2236.5 1857.1 L2236.9 1903.5 L2237.3 1950.0 L2240.0 1983.3 L2243.3 2013.3 L2244.1 1960.5 L2244.8 1907.7 L2245.5 1854.9 L2246.3 1802.1 L2247.0 1749.3 L2247.7 1696.5 L2248.5 1643.7 L2249.2 1590.9 L2249.8 1538.1 L2250.2 1506.5 L2250.7 1485.3 L2251.1 1505.3 L2251.5 1535.1 L2252.0 1584.9 L2252.5 1634.7 L2252.9 1684.5 L2253.3 1734.3 L2253.6 1784.1 L2253.9 1833.9 L2253.9 1883.7 L2253.9 1933.5 L2254.0 1983.3 L2256.7 2133.3 L2259.3 2216.7 L2260.7 2233.3 L2263.3 2183.3 L2266.7 2133.3 L2270.7 2120.0 L2273.3 2150.0 L2276.0 2200.0 L2278.3 2225.0 L2281.7 2133.3 L2285.0 2050.0 L2288.3 1983.3 L2292.7 1973.3 L2295.0 2016.7 L2297.3 2183.3 L2300.0 2050.0 L2303.3 1916.7 L2303.8 1893.5 L2304.2 1870.3 L2304.6 1847.2 L2305.1 1824.0 L2305.5 1800.8 L2305.9 1777.7 L2306.4 1754.5 L2306.8 1731.3 L2307.2 1708.2 L2307.4 1694.3 L2307.7 1685.0 L2307.9 1694.9 L2308.2 1709.8 L2308.8 1734.7 L2309.4 1759.5 L2309.9 1784.3 L2310.5 1809.2 L2311.1 1834.0 L2311.6 1858.8 L2312.2 1883.7 L2312.8 1908.5 L2313.3 1933.3 L2316.7 2043.3 L2319.3 2016.7 L2321.7 1916.7 L2323.3 1910.0 L2326.0 1950.0 L2327.3 2050.0 L2330.0 2133.3 L2332.7 2140.0 L2336.7 2116.7 L2339.3 2106.7 L2341.7 2116.7 L2345.0 2150.0 L2348.3 2176.7 L2351.7 2195.0 L2355.0 2150.0 L2358.3 2143.3 L2363.3 2116.7 L2366.7 2100.0 L2370.0 2096.7 L2373.3 2016.7 L2373.8 1986.1 L2374.2 1955.5 L2374.6 1925.0 L2375.1 1894.4 L2375.5 1863.8 L2375.9 1833.3 L2376.4 1802.7 L2376.7 1772.1 L2377.1 1741.6 L2377.3 1723.2 L2377.7 1711.0 L2378.0 1721.9 L2378.2 1738.2 L2378.6 1765.5 L2378.9 1792.7 L2379.3 1819.9 L2379.7 1847.2 L2380.1 1874.4 L2380.5 1901.6 L2380.9 1928.9 L2381.3 1956.1 L2381.7 1983.3 L2385.0 2116.7 L2386.7 2176.7 L2390.0 2150.0 L2395.0 2083.3 L2398.3 2016.7 L2400.7 1950.0 L2403.3 1816.7 L2403.6 1640.0 L2403.6 1463.3 L2403.6 1286.7 L2403.8 1110.0 L2404.7 933.3 L2405.6 756.7 L2406.6 580.0 L2407.7 403.3 L2408.9 226.7 L2409.9 120.7 L2411.0 50.0 L2411.9 105.6 L2412.7 189.0 L2413.8 328.0 L2414.8 467.0 L2415.6 606.0 L2416.4 745.0 L2417.1 884.0 L2417.8 1023.0 L2418.1 1162.0 L2418.1 1301.0 L2418.3 1440.0 L2418.8 1416.6 L2419.3 1393.2 L2419.7 1369.8 L2420.2 1346.4 L2420.7 1323.0 L2421.1 1299.6 L2421.6 1276.2 L2422.1 1252.8 L2422.5 1229.4 L2422.7 1215.4 L2423.0 1206.0 L2423.5 1231.8 L2424.0 1270.4 L2424.6 1334.8 L2425.2 1399.2 L2425.7 1463.6 L2426.1 1528.0 L2426.6 1592.4 L2426.6 1656.8 L2426.6 1721.2 L2426.6 1785.6 L2426.7 1850.0 L2430.0 1983.3 L2431.7 2056.7 L2435.0 1950.0 L2438.3 1866.7 L2440.0 1856.7 L2442.7 1950.0 L2445.0 2050.0 L2448.3 2143.3 L2451.7 2050.0 L2455.0 1950.0 L2458.3 1850.0 L2461.7 1786.7 L2465.0 1783.3 L2467.3 1816.7 L2469.3 1826.7 L2469.9 1761.8 L2470.5 1697.0 L2471.1 1632.2 L2471.7 1567.3 L2472.2 1502.5 L2472.6 1437.7 L2473.1 1372.8 L2473.7 1308.0 L2474.3 1243.2 L2474.8 1204.3 L2475.3 1178.3 L2475.8 1202.5 L2476.3 1238.8 L2476.9 1299.3 L2477.4 1359.8 L2477.9 1420.3 L2478.3 1480.8 L2478.7 1541.3 L2479.1 1601.8 L2479.5 1662.3 L2479.9 1722.8 L2480.0 1783.3 L2483.3 1850.0 L2486.0 1846.7 L2488.3 1866.7 L2490.7 1916.7 L2492.7 2050.0 L2495.0 2133.3 L2498.3 2153.3 L2501.7 2133.3 L2505.0 2100.0 L2508.3 2066.7 L2511.0 2055.0 L2513.3 2083.3 L2517.3 2113.3 L2520.0 2066.7 L2523.3 2033.3 L2526.0 2026.7 L2528.3 2040.0 L2530.7 2060.0 L2533.3 2051.7 L2536.7 2083.3 L2540.0 2110.0 L2543.3 2150.0 L2546.7 2175.0 L2548.3 2150.0 L2550.7 2130.0 L2553.3 2126.7 L2556.7 2100.0 L2560.0 2050.0 L2562.7 2026.7 L2566.7 2016.7 L2570.0 2010.0 L2572.7 1996.7 L2575.0 1966.7 L2577.3 1951.7 L2579.3 1956.7 L2581.7 2000.0 L2584.0 2050.0 L2586.7 2051.7 L2589.3 2033.3 L2592.7 2018.3 L2595.0 2040.0 L2598.3 2066.7 L2602.7 2088.3 L2606.0 2060.0 L2609.3 2040.0 L2612.7 2043.3 L2615.0 2063.3 L2617.3 1983.3 L2620.7 1883.3 L2623.3 1841.7 L2626.0 1883.3 L2628.3 1950.0 L2631.7 2016.7 L2634.0 2026.7 L2636.7 1996.7 L2639.3 2010.0 L2641.7 2023.3 L2645.0 2050.0 L2649.3 2100.0 L2652.7 2150.0 L2656.7 2168.3 L2660.0 2170.7 L2663.3 2116.7 L2666.7 2016.7 L2670.0 1850.0 L2670.2 1829.0 L2670.3 1808.1 L2670.5 1787.1 L2670.7 1766.1 L2670.9 1745.2 L2671.1 1724.2 L2671.3 1703.2 L2671.6 1682.3 L2671.9 1661.3 L2672.1 1648.7 L2672.3 1640.3 L2672.6 1650.1 L2672.8 1664.6 L2673.2 1688.9 L2673.6 1713.2 L2674.1 1737.5 L2674.5 1761.8 L2674.9 1786.1 L2675.4 1810.4 L2675.8 1834.7 L2676.2 1859.0 L2676.7 1883.3 L2680.0 1916.7 L2682.7 1930.0 L2685.0 1983.3 L2688.3 2083.3 L2690.0 2090.0 L2693.3 2050.0 L2697.3 2028.3 L2700.0 2050.0 L2703.3 2083.3 L2706.7 2095.0 L2710.0 2066.7 L2713.3 2050.0 L2716.0 2056.7 L2718.3 2016.7 L2721.7 1916.7 L2726.7 1820.0 L2729.3 1850.0 L2731.7 1910.0 L2734.0 1916.7 L2736.7 1866.7 L2739.3 1838.3 L2742.7 1860.0 L2745.0 1876.7 L2746.7 1883.3 L2750.0 1983.3 L2755.0 2033.3 L2758.3 2066.7 L2761.7 2080.0 L2765.0 2050.0 L2768.3 1950.0 L2771.7 1816.7 L2780.0 1585.7 L2783.3 1690.0 L2786.7 1710.0 L2790.0 1783.3 L2793.3 1783.3 L2794.1 1708.8 L2794.9 1634.3 L2795.6 1559.7 L2796.4 1485.2 L2797.2 1410.7 L2797.9 1336.1 L2798.6 1261.6 L2799.2 1187.1 L2799.9 1112.5 L2800.4 1067.8 L2801.0 1038.0 L2801.6 1066.5 L2802.1 1109.2 L2802.8 1180.4 L2803.4 1251.6 L2803.9 1322.8 L2804.4 1394.0 L2804.8 1465.2 L2804.9 1536.4 L2804.9 1607.6 L2804.9 1678.8 L2805.0 1750.0 L2808.3 1850.0 L2811.7 1916.7 L2815.0 1960.0 L2818.3 1950.0 L2821.7 1850.0 L2822.2 1832.4 L2822.7 1814.9 L2823.2 1797.3 L2823.7 1779.7 L2824.2 1762.2 L2824.7 1744.6 L2825.2 1727.0 L2825.7 1709.5 L2826.2 1691.9 L2826.5 1681.4 L2826.7 1674.3 L2826.9 1681.4 L2827.1 1691.9 L2827.3 1709.5 L2827.7 1727.0 L2828.0 1744.6 L2828.3 1762.2 L2828.7 1779.7 L2829.0 1797.3 L2829.3 1814.9 L2829.7 1832.4 L2830.0 1850.0 L2833.3 1950.0 L2836.7 2000.0 L2840.0 2050.0 L2842.7 2003.3 L2845.0 2000.0 L2847.3 2016.7 L2850.0 2050.0 L2852.7 2053.3 L2855.0 2033.3 L2859.3 2010.0 L2861.7 2033.3 L2864.0 2066.7 L2866.7 2100.0 L2869.3 2126.7 L2871.7 2093.3 L2875.0 2050.0 L2878.3 2000.0 L2881.7 1983.3 L2884.3 1970.0 L2886.7 1990.0 L2889.3 2050.0 L2891.7 2066.7 L2895.0 1950.0 L2898.3 1816.7 L2901.7 1788.3 L2904.0 1850.0 L2906.0 1983.3 L2908.3 1970.0 L2910.7 1968.3 L2913.3 1983.3 L2915.0 2006.7 L2917.3 1916.7 L2918.2 1800.9 L2919.1 1685.1 L2919.9 1569.4 L2920.6 1453.6 L2921.3 1337.8 L2922.0 1222.1 L2922.7 1106.3 L2923.5 990.5 L2924.5 874.8 L2925.2 805.3 L2926.0 759.0 L2926.4 774.6 L2926.7 798.1 L2927.2 837.2 L2927.5 876.3 L2927.9 915.4 L2928.2 954.5 L2928.5 993.6 L2928.8 1032.7 L2929.1 1071.8 L2929.2 1110.9 L2929.3 1150.0 L2935.0 1430.0 L2936.7 1448.0 L2938.7 1365.7 L2943.3 1750.0 L2946.7 1883.3 L2951.7 1923.3 L2953.3 1926.7 L2956.7 1850.0 L2959.0 1700.3 L2961.7 1766.7 L2965.0 1900.0 L2968.3 1950.0 L2971.7 1946.7 L2975.0 1943.3 L2978.3 1953.3 L2980.7 1933.3 L2985.0 1833.3 L2988.3 1700.0 L2988.8 1676.7 L2989.3 1653.5 L2989.8 1630.2 L2990.3 1606.9 L2990.8 1583.7 L2991.3 1560.4 L2991.8 1537.1 L2992.3 1513.9 L2992.8 1490.6 L2993.1 1476.6 L2993.3 1467.3 L2993.5 1474.0 L2993.7 1483.9 L2994.0 1500.5 L2994.3 1517.1 L2994.7 1533.7 L2995.0 1550.3 L2995.3 1566.9 L2995.7 1583.5 L2996.0 1600.1 L2996.3 1616.7 L2996.7 1633.3 L2999.3 1800.0 L3000.7 1936.7 L3003.3 1866.7 L3006.0 1700.0 L3006.1 1651.3 L3006.1 1602.5 L3006.1 1553.8 L3006.1 1505.1 L3006.1 1456.3 L3006.5 1407.6 L3006.9 1358.9 L3007.3 1310.1 L3007.8 1261.4 L3008.2 1232.2 L3008.7 1212.7 L3009.0 1228.2 L3009.4 1251.4 L3009.8 1290.1 L3010.2 1328.9 L3010.5 1367.6 L3011.0 1406.3 L3011.5 1445.1 L3011.9 1483.8 L3012.4 1522.5 L3012.9 1561.3 L3013.3 1600.0 L3016.7 1700.0 L3019.3 1750.0 L3021.7 1833.3 L3025.0 1883.3 L3028.3 1946.7 L3030.0 1933.3 L3033.3 1928.3 L3036.0 1966.7 L3039.3 2016.7 L3042.7 2026.7 L3046.0 2000.0 L3049.3 1900.0 L3052.7 1823.3 L3055.0 1883.3 L3057.3 1950.0 L3060.0 2000.0 L3062.7 2026.7 L3066.0 2000.0 L3070.0 1995.0 L3075.0 1996.7 L3080.0 1983.3 L3084.0 1933.3 L3087.3 1900.0 L3090.7 1800.0 L3093.3 1791.7 L3096.7 1796.7 L3100.0 1700.0 L3100.5 1681.1 L3101.1 1662.1 L3101.6 1643.2 L3102.1 1624.3 L3102.7 1605.3 L3103.2 1586.4 L3103.7 1567.5 L3104.3 1548.5 L3104.8 1529.6 L3105.1 1518.2 L3105.3 1510.7 L3105.5 1516.9 L3105.7 1526.3 L3105.9 1541.9 L3106.2 1557.5 L3106.5 1573.1 L3106.8 1588.7 L3107.1 1604.3 L3107.4 1619.9 L3107.7 1635.5 L3108.0 1651.1 L3108.3 1666.7 L3110.0 1766.7 L3112.7 1833.3 L3115.0 1733.3 L3118.3 1633.3 L3121.7 1600.7 L3125.0 1700.0 L3128.3 1773.3 L3130.7 1793.3 L3133.3 1803.3 L3136.0 1866.7 L3139.3 1933.3 L3142.7 1973.3 L3146.0 1986.7 L3149.3 2000.0 L3152.7 2030.0 L3156.7 2016.7 L3161.7 2010.0 L3166.0 1966.7 L3170.0 1833.3 L3173.3 1700.0 L3176.7 1571.7 L3180.0 1766.7 L3183.3 1900.0 L3186.0 1926.7 L3189.3 1883.3 L3191.7 1860.0 L3195.0 1886.7 L3197.3 1833.3 L3200.7 1783.3 L3203.3 1833.3 L3206.7 1900.0 L3209.3 1950.0 L3211.7 1953.3 L3215.0 1930.0 L3217.3 1933.3 L3220.7 1966.7 L3224.0 1980.0 L3226.7 1933.3 L3229.3 1860.0 L3231.7 1853.3 L3235.0 1850.0 L3238.3 1766.7 L3241.7 1720.0 L3245.0 1766.7 L3248.3 1833.3 L3250.7 1900.0 L3253.3 1946.7 L3256.0 1953.3 L3258.3 1950.0 L3261.7 1866.7 L3265.0 1733.3 L3268.0 1559.7 L3271.7 1700.0 L3275.0 1800.0 L3276.7 1866.7 L3279.3 1890.0 L3281.7 1886.7 L3285.0 1916.7 L3288.3 1930.0 L3291.7 1866.7 L3295.0 1733.3 L3298.3 1575.0 L3301.7 1666.7 L3303.3 1733.3 L3306.7 1650.0 L3309.3 1618.3 L3313.3 1666.7 L3316.0 1700.0 L3318.3 1633.3 L3318.4 1589.1 L3318.4 1544.8 L3318.4 1500.5 L3318.6 1456.3 L3318.9 1412.0 L3319.3 1367.7 L3319.6 1323.5 L3320.1 1279.2 L3320.6 1234.9 L3320.9 1208.4 L3321.3 1190.7 L3321.8 1209.7 L3322.2 1238.3 L3322.7 1285.9 L3323.1 1333.5 L3323.5 1381.1 L3324.0 1428.7 L3324.5 1476.3 L3325.1 1523.9 L3325.6 1571.5 L3326.1 1619.1 L3326.7 1666.7 L3330.0 1766.7 L3332.7 1830.0 L3336.0 1863.3 L3339.3 1905.0 L3342.7 1866.7 L3346.0 1850.0 L3348.3 1848.3 L3350.7 1883.3 L3354.0 1916.7 L3357.3 1966.7 L3360.0 1966.7 L3363.3 1933.3 L3366.0 1910.0 L3368.3 1908.3 L3370.7 1950.0 L3373.3 1976.7 L3376.7 1900.0 L3379.3 1833.3 L3381.7 1796.7 L3385.0 1833.3 L3387.3 1900.0 L3390.0 1926.7 L3392.7 1900.0 L3396.0 1833.3 L3399.3 1776.7 L3401.7 1800.0 L3404.0 1866.7 L3406.7 1883.3 L3409.3 1800.0 L3412.7 1666.7 L3413.0 1596.6 L3413.4 1526.5 L3413.8 1456.4 L3414.2 1386.3 L3414.7 1316.2 L3415.2 1246.1 L3415.7 1176.0 L3416.2 1105.9 L3416.9 1035.8 L3417.4 993.7 L3418.0 965.7 L3418.4 981.7 L3418.7 1005.8 L3419.2 1045.9 L3419.6 1086.0 L3419.9 1126.1 L3420.2 1166.2 L3420.6 1206.3 L3420.8 1246.4 L3421.1 1286.5 L3421.2 1326.6 L3421.3 1366.7 L3423.0 1494.3 L3423.4 1476.2 L3423.9 1458.0 L3424.3 1439.8 L3424.7 1421.7 L3425.2 1403.5 L3425.6 1385.3 L3426.0 1367.2 L3426.5 1349.0 L3426.9 1330.8 L3427.1 1319.9 L3427.3 1312.7 L3427.6 1324.2 L3427.9 1341.4 L3428.3 1370.1 L3428.6 1398.9 L3428.9 1427.6 L3429.1 1456.3 L3429.4 1485.1 L3429.7 1513.8 L3430.0 1542.5 L3430.3 1571.3 L3430.7 1600.0 L3433.3 1733.3 L3436.7 1800.0 L3440.0 1856.7 L3443.3 1800.0 L3446.7 1666.7 L3447.1 1644.6 L3447.5 1622.5 L3447.9 1600.5 L3448.3 1578.4 L3448.7 1556.3 L3449.1 1534.3 L3449.5 1512.2 L3449.9 1490.1 L3450.2 1468.1 L3450.4 1454.8 L3450.7 1446.0 L3450.9 1456.2 L3451.2 1471.4 L3451.5 1496.8 L3452.0 1522.2 L3452.4 1547.6 L3452.8 1573.0 L3453.3 1598.4 L3453.7 1623.8 L3454.1 1649.2 L3454.6 1674.6 L3455.0 1700.0 L3458.3 1766.7 L3461.7 1833.3 L3464.0 1870.0 L3466.7 1800.0 L3469.3 1740.0 L3471.7 1750.0 L3473.3 1748.3 L3476.0 1766.7 L3478.3 1793.3 L3480.7 1733.3 L3484.0 1703.3 L3486.7 1766.7 L3489.3 1826.7 L3491.7 1766.7 L3498.0 1552.7 L3500.0 1700.0 L3503.3 1800.0 L3506.0 1846.7 L3508.3 1800.0 L3511.7 1666.7 L3511.7 1631.9 L3511.7 1597.2 L3511.8 1562.5 L3512.0 1527.7 L3512.3 1493.0 L3512.6 1458.3 L3512.9 1423.5 L3513.3 1388.8 L3513.7 1354.1 L3514.0 1333.2 L3514.3 1319.3 L3514.6 1330.6 L3514.9 1347.4 L3515.3 1375.5 L3515.6 1403.5 L3515.9 1431.6 L3516.3 1459.7 L3516.7 1487.7 L3517.1 1515.8 L3517.5 1543.9 L3517.9 1571.9 L3518.3 1600.0 L3521.7 1700.0 L3525.0 1766.7 L3528.3 1833.3 L3530.7 1860.0 L3533.3 1876.7 L3536.7 1896.7 L3540.0 1898.3 L3543.3 1901.7 L3546.7 1783.3 L3550.0 1583.3 L3552.7 1543.3 L3555.0 1550.0 L3556.7 1650.0 L3558.3 1700.0 L3560.7 1733.3 L3562.7 1740.0 L3564.0 1750.0 L3566.7 1773.3 L3570.0 1650.0 L3573.3 1516.7 L3575.3 1447.0 L3578.3 1583.3 L3580.7 1716.7 L3582.7 1783.3 L3584.0 1795.0 L3586.7 1756.7 L3590.0 1750.0 L3593.3 1683.3 L3597.3 1600.0 L3600.0 1633.3 L3602.7 1666.7 L3605.0 1700.0 L3608.3 1750.0 L3610.7 1763.3 L3614.0 1760.0 L3616.7 1700.0 L3620.0 1676.7 L3621.7 1670.0 L3624.0 1700.0 L3626.7 1783.3 L3630.0 1850.0 L3633.3 1866.7 L3636.7 1856.7 L3640.0 1855.0 L3643.3 1853.3 L3647.3 1850.0 L3650.0 1783.3 L3653.3 1683.3 L3657.3 1585.0 L3660.0 1650.0 L3663.3 1766.7 L3666.0 1756.7 L3669.3 1723.3 L3671.7 1766.7 L3675.0 1850.0 L3677.3 1870.0 L3680.0 1816.7 L3683.3 1750.0 L3686.0 1735.0 L3688.3 1743.3 L3691.7 1756.7 L3694.0 1760.0 L3696.7 1816.7 L3699.3 1870.0 L3701.7 1800.0 L3705.0 1650.0 L3708.3 1516.7 L3710.0 1491.7 L3712.7 1516.7 L3715.0 1583.3 L3717.3 1550.0 L3720.0 1500.0 L3721.7 1488.3 L3724.0 1550.0 L3726.7 1683.3 L3729.3 1783.3 L3732.7 1850.0 L3736.7 1860.0 L3740.0 1848.3 L3742.7 1856.7 L3746.0 1783.3 L3750.0 1750.0 L3755.0 1740.0 L3758.3 1733.3 L3761.7 1743.3 L3764.0 1766.7 L3766.7 1773.3 L3769.3 1816.7 L3771.7 1883.3 L3773.3 1898.3 L3776.0 1883.3 L3779.3 1816.7 L3782.7 1716.7 L3786.7 1583.3 L3790.0 1483.3 L3793.3 1390.0 L3796.7 1550.0 L3800.0 1650.0 L3802.7 1710.0 L3805.0 1728.3 L3808.3 1650.0 L3811.7 1550.0 L3814.0 1516.7 L3816.0 1508.3 L3818.3 1533.3 L3820.7 1616.7 L3824.0 1716.7 L3826.7 1783.3 L3829.3 1870.0 L3832.7 1866.7 L3836.0 1850.0 L3838.3 1833.3 L3841.7 1783.3 L3845.0 1750.0 L3850.0 1683.3 L3854.0 1605.0 L3856.7 1650.0 L3859.3 1716.7 L3862.7 1790.0 L3865.0 1780.0 L3868.3 1716.7 L3871.7 1650.0 L3875.0 1516.7 L3875.8 1492.3 L3876.7 1468.0 L3877.5 1443.7 L3878.3 1419.3 L3879.2 1395.0 L3880.0 1370.7 L3880.8 1346.3 L3881.7 1322.0 L3882.5 1297.7 L3883.0 1283.1 L3883.3 1273.3 L3883.5 1280.4 L3883.7 1291.0 L3884.0 1308.7 L3884.3 1326.3 L3884.7 1344.0 L3885.0 1361.7 L3885.3 1379.3 L3885.7 1397.0 L3886.0 1414.7 L3886.3 1432.3 L3886.7 1450.0 L3889.3 1550.0 L3891.7 1616.7 L3894.0 1696.7 L3896.0 1650.0 L3898.3 1550.0 L3900.7 1435.3 L3903.3 1550.0 L3906.7 1650.0 L3910.0 1713.3 L3912.7 1666.7 L3915.0 1600.0 L3917.7 1570.0 L3920.0 1600.0 L3922.7 1650.0 L3925.0 1690.0 L3926.7 1693.3 L3929.3 1650.0 L3933.3 1550.0 L3939.3 1443.3 L3941.7 1550.0 L3945.0 1616.7 L3948.3 1650.0 L3951.7 1683.3 L3955.0 1723.3 L3958.3 1738.3 L3961.7 1716.7 L3965.0 1666.7 L3968.3 1616.7 L3972.3 1596.7 L3975.0 1616.7 L3978.3 1650.0 L3981.7 1676.7 L3985.0 1683.3 L3988.3 1583.3 L3991.7 1516.7 L3994.0 1500.0 L3996.7 1516.7 L3997.3 1491.7 L3997.9 1466.7 L3998.5 1441.8 L3999.1 1416.8 L3999.7 1391.8 L4000.3 1366.9 L4000.9 1341.9 L4001.5 1316.9 L4002.1 1292.0 L4002.4 1277.0 L4002.7 1267.0 L4003.0 1278.3 L4003.2 1295.3 L4003.6 1323.6 L4003.9 1351.9 L4004.2 1380.2 L4004.4 1408.5 L4004.7 1436.8 L4004.9 1465.1 L4004.9 1493.4 L4004.9 1521.7 L4005.0 1550.0 L4008.3 1616.7 L4011.7 1683.3 L4015.0 1686.7 L4018.3 1683.3 L4021.7 1616.7 L4026.7 1550.0 L4030.0 1583.3 L4033.3 1593.3 L4036.0 1650.0 L4039.3 1716.7 L4041.7 1733.3 L4045.0 1683.3 L4048.3 1583.3 L4051.7 1516.7 L4055.0 1508.3 L4058.3 1523.3 L4061.7 1533.3 L4064.0 1566.7 L4066.7 1573.3 L4070.0 1650.0 L4073.3 1750.0 L4076.7 1716.7 L4080.0 1650.0 L4083.3 1616.7 L4086.0 1623.3 L4088.3 1650.0 L4090.7 1693.3 L4094.0 1703.3 L4098.3 1703.3 L4103.3 1666.7 L4106.7 1656.7 L4110.0 1616.7 L4113.3 1516.7 L4115.7 1471.7 L4118.3 1516.7 L4120.7 1616.7 L4123.3 1716.7 L4126.0 1700.0 L4128.3 1713.3 L4130.7 1733.3 L4133.3 1750.0 L4136.7 1600.0 L4138.3 1533.3 L4140.7 1476.7 L4142.7 1516.7 L4144.0 1566.7 L4146.7 1626.7 L4148.3 1626.7 L4151.7 1600.0 L4154.0 1583.3 L4156.7 1533.3 L4158.3 1506.7 L4160.0 1533.3 L4161.7 1523.3 L4163.3 1566.7 L4166.0 1616.7 L4168.3 1666.7 L4170.7 1716.7 L4173.3 1743.3 L4176.0 1700.0 L4179.3 1658.3 L4182.7 1683.3 L4184.0 1733.3 L4186.0 1766.7 L4187.7 1788.3 L4190.0 1766.7 L4191.7 1756.7 L4194.0 1751.7" fill="none" stroke="#454545" stroke-width="1.8" stroke-linejoin="round"/>
<text id="t4" x="0" y="2526" font-size="50" transform="translate(462 0) scale(0.986 1)">Siloxanes</text>
<text id="t5" x="0" y="2597" font-size="43.5" transform="translate(122.8 0) scale(1.0449 1)">23 Sep 13 03</text>
<!-- axis -->
<rect x="97.4" y="2612" width="4098" height="8" fill="#000"/>
<rect x="139.8" y="2612" width="8" height="27.5" fill="#000"/><rect x="317.1" y="2612" width="8" height="27.5" fill="#000"/><rect x="494.4" y="2612" width="8" height="27.5" fill="#000"/><rect x="671.6" y="2612" width="8" height="27.5" fill="#000"/><rect x="848.9" y="2612" width="8" height="27.5" fill="#000"/><rect x="1026.2" y="2612" width="8" height="27.5" fill="#000"/><rect x="1203.5" y="2612" width="8" height="27.5" fill="#000"/><rect x="1380.8" y="2612" width="8" height="27.5" fill="#000"/><rect x="1558.0" y="2612" width="8" height="27.5" fill="#000"/><rect x="1735.3" y="2612" width="8" height="27.5" fill="#000"/><rect x="1912.6" y="2612" width="8" height="27.5" fill="#000"/><rect x="2089.9" y="2612" width="8" height="27.5" fill="#000"/><rect x="2267.2" y="2612" width="8" height="27.5" fill="#000"/><rect x="2444.4" y="2612" width="8" height="27.5" fill="#000"/><rect x="2621.7" y="2612" width="8" height="27.5" fill="#000"/><rect x="2799.0" y="2612" width="8" height="27.5" fill="#000"/><rect x="2976.3" y="2612" width="8" height="27.5" fill="#000"/><rect x="3153.6" y="2612" width="8" height="27.5" fill="#000"/><rect x="3330.8" y="2612" width="8" height="27.5" fill="#000"/><rect x="3508.1" y="2612" width="8" height="27.5" fill="#000"/><rect x="3685.4" y="2612" width="8" height="27.5" fill="#000"/><rect x="3862.7" y="2612" width="8" height="27.5" fill="#000"/><rect x="4040.0" y="2612" width="8" height="27.5" fill="#000"/>
<g font-size="78">
<text x="140" y="2715.8" text-anchor="middle">24</text>
<text x="849" y="2715.8" text-anchor="middle">28</text>
<text x="1558" y="2715.8" text-anchor="middle">32</text>
<text x="2267" y="2715.8" text-anchor="middle">36</text>
<text x="2976" y="2715.8" text-anchor="middle">40</text>
<text x="3685" y="2715.8" text-anchor="middle">44</text>
<text x="4076" y="2715.8">min</text>
</g>
</svg>
</body></html>
